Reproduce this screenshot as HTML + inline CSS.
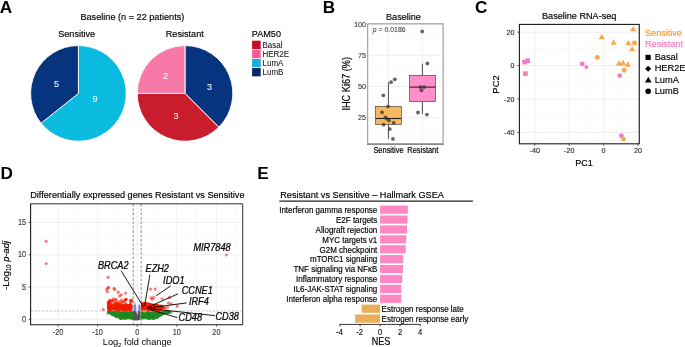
<!DOCTYPE html>
<html><head><meta charset="utf-8"><style>
html,body{margin:0;padding:0;background:#fff;}
svg{display:block;font-family:"Liberation Sans", sans-serif;will-change:transform;}
</style></head><body>
<svg width="685" height="347" viewBox="0 0 685 347">
<rect width="685" height="347" fill="#fff"/>
<text transform="translate(-0.2,12.8) scale(1,1.0)" font-size="17.2" font-weight="bold">A</text>
<text transform="translate(80.4,19.9) scale(1,1.05)" font-size="9.15" stroke="#000" stroke-width="0.16">Baseline (n = 22 patients)</text>
<text transform="translate(58.2,37.2) scale(1,1.05)" font-size="9.1" stroke="#000" stroke-width="0.16">Sensitive</text>
<text transform="translate(165.8,37.2) scale(1,1.05)" font-size="9.1" stroke="#000" stroke-width="0.16">Resistant</text>
<path d="M78.4,93.4 L78.40,45.60 A47.8,47.8 0 1 1 41.03,123.20 Z" fill="#0ABADF" stroke="#fff" stroke-width="0.9" stroke-linejoin="round"/>
<path d="M78.4,93.4 L41.03,123.20 A47.8,47.8 0 0 1 78.40,45.60 Z" fill="#07347E" stroke="#fff" stroke-width="0.9" stroke-linejoin="round"/>
<path d="M185.0,93.4 L185.00,45.60 A47.8,47.8 0 0 1 218.80,127.20 Z" fill="#07347E" stroke="#fff" stroke-width="0.9" stroke-linejoin="round"/>
<path d="M185.0,93.4 L218.80,127.20 A47.8,47.8 0 0 1 137.20,93.40 Z" fill="#C91D2E" stroke="#fff" stroke-width="0.9" stroke-linejoin="round"/>
<path d="M185.0,93.4 L137.20,93.40 A47.8,47.8 0 0 1 185.00,45.60 Z" fill="#F779A8" stroke="#fff" stroke-width="0.9" stroke-linejoin="round"/>
<text transform="translate(56.5,86.8) scale(1,1.0)" font-size="9.0" text-anchor="middle" fill="#fff" stroke="#fff" stroke-width="0.05">5</text>
<text transform="translate(95.1,101.7) scale(1,1.0)" font-size="9.0" text-anchor="middle" fill="#fff" stroke="#fff" stroke-width="0.05">9</text>
<text transform="translate(165.5,78.9) scale(1,1.0)" font-size="9.0" text-anchor="middle" fill="#fff" stroke="#fff" stroke-width="0.05">2</text>
<text transform="translate(209.5,89.6) scale(1,1.0)" font-size="9.0" text-anchor="middle" fill="#fff" stroke="#fff" stroke-width="0.05">3</text>
<text transform="translate(175.9,118.6) scale(1,1.0)" font-size="9.0" text-anchor="middle" fill="#fff" stroke="#fff" stroke-width="0.05">3</text>
<text transform="translate(251.8,37.1) scale(1,1.05)" font-size="9.1" stroke="#000" stroke-width="0.16">PAM50</text>
<rect x="252.1" y="40.70" width="8.6" height="8.35" fill="#C60C2C"/>
<text transform="translate(262.5,47.9) scale(1,1.05)" font-size="8" fill="#1a1a1a" stroke="#1a1a1a" stroke-width="0.08">Basal</text>
<rect x="252.1" y="49.80" width="8.6" height="8.35" fill="#FA5A9A"/>
<text transform="translate(262.5,57.0) scale(1,1.05)" font-size="8" fill="#1a1a1a" stroke="#1a1a1a" stroke-width="0.08">HER2E</text>
<rect x="252.1" y="58.90" width="8.6" height="8.35" fill="#1AADD9"/>
<text transform="translate(262.5,66.1) scale(1,1.05)" font-size="8" fill="#1a1a1a" stroke="#1a1a1a" stroke-width="0.08">LumA</text>
<rect x="252.1" y="68.00" width="8.6" height="8.35" fill="#0B2766"/>
<text transform="translate(262.5,75.2) scale(1,1.05)" font-size="8" fill="#1a1a1a" stroke="#1a1a1a" stroke-width="0.08">LumB</text>
<text transform="translate(322.8,12.8) scale(1,1.0)" font-size="17.2" font-weight="bold">B</text>
<text transform="translate(386,20) scale(1,1.05)" font-size="9.1" stroke="#000" stroke-width="0.16">Baseline</text>
<line x1="367.6" y1="102.15" x2="443.1" y2="102.15" stroke="#F2F2F2" stroke-width="0.5"/>
<line x1="367.6" y1="70.85" x2="443.1" y2="70.85" stroke="#F2F2F2" stroke-width="0.5"/>
<line x1="367.6" y1="39.55" x2="443.1" y2="39.55" stroke="#F2F2F2" stroke-width="0.5"/>
<line x1="367.6" y1="133.45" x2="443.1" y2="133.45" stroke="#F2F2F2" stroke-width="0.5"/>
<line x1="367.6" y1="117.80" x2="443.1" y2="117.80" stroke="#EBEBEB" stroke-width="0.8"/>
<line x1="367.6" y1="86.50" x2="443.1" y2="86.50" stroke="#EBEBEB" stroke-width="0.8"/>
<line x1="367.6" y1="55.20" x2="443.1" y2="55.20" stroke="#EBEBEB" stroke-width="0.8"/>
<line x1="367.6" y1="23.90" x2="443.1" y2="23.90" stroke="#EBEBEB" stroke-width="0.8"/>
<line x1="388.4" y1="23.8" x2="388.4" y2="144.1" stroke="#EBEBEB" stroke-width="0.8"/>
<line x1="422.4" y1="23.8" x2="422.4" y2="144.1" stroke="#EBEBEB" stroke-width="0.8"/>
<line x1="388.4" y1="82.4" x2="388.4" y2="138.8" stroke="#222" stroke-width="0.8"/>
<rect x="375.6" y="106.3" width="25.8" height="18.2" fill="#FBB75F" stroke="#333" stroke-width="0.6"/>
<line x1="375.6" y1="118.5" x2="401.4" y2="118.5" stroke="#222" stroke-width="1.1"/>
<line x1="422.4" y1="63.7" x2="422.4" y2="114" stroke="#222" stroke-width="0.8"/>
<rect x="409.6" y="75.3" width="25.8" height="26.3" fill="#FF8FC8" stroke="#333" stroke-width="0.6"/>
<line x1="409.6" y1="87.1" x2="435.4" y2="87.1" stroke="#222" stroke-width="1.1"/>
<circle cx="394.8" cy="79.3" r="1.9" fill="#333" fill-opacity="0.75"/>
<circle cx="391.1" cy="82.2" r="1.9" fill="#333" fill-opacity="0.75"/>
<circle cx="383.3" cy="95.4" r="1.9" fill="#333" fill-opacity="0.75"/>
<circle cx="388" cy="106.6" r="1.9" fill="#333" fill-opacity="0.75"/>
<circle cx="382" cy="112.3" r="1.9" fill="#333" fill-opacity="0.75"/>
<circle cx="385.4" cy="117.5" r="1.9" fill="#333" fill-opacity="0.75"/>
<circle cx="387" cy="118.8" r="1.9" fill="#333" fill-opacity="0.75"/>
<circle cx="389" cy="120.6" r="1.9" fill="#333" fill-opacity="0.75"/>
<circle cx="393.7" cy="122.9" r="1.9" fill="#333" fill-opacity="0.75"/>
<circle cx="383.6" cy="124.7" r="1.9" fill="#333" fill-opacity="0.75"/>
<circle cx="389.8" cy="129.1" r="1.9" fill="#333" fill-opacity="0.75"/>
<circle cx="392.9" cy="138.9" r="1.9" fill="#333" fill-opacity="0.75"/>
<circle cx="422.2" cy="31.5" r="1.9" fill="#333" fill-opacity="0.75"/>
<circle cx="427.4" cy="63.4" r="1.9" fill="#333" fill-opacity="0.75"/>
<circle cx="420.2" cy="87.1" r="1.9" fill="#333" fill-opacity="0.75"/>
<circle cx="424" cy="87.1" r="1.9" fill="#333" fill-opacity="0.75"/>
<circle cx="421.5" cy="90.3" r="1.9" fill="#333" fill-opacity="0.75"/>
<circle cx="418" cy="112.5" r="1.9" fill="#333" fill-opacity="0.75"/>
<circle cx="426.9" cy="114.6" r="1.9" fill="#333" fill-opacity="0.75"/>
<rect x="367.6" y="23.8" width="75.5" height="120.3" fill="none" stroke="#A6A6A6" stroke-width="1.3"/>
<line x1="367.0" y1="144.1" x2="443.70000000000005" y2="144.1" stroke="#7A7A7A" stroke-width="1.3"/>
<text transform="translate(366.1,120.4) scale(1,1.1)" font-size="7.3" text-anchor="end" fill="#333" stroke="#333" stroke-width="0.1">25</text>
<text transform="translate(366.1,89.1) scale(1,1.1)" font-size="7.3" text-anchor="end" fill="#333" stroke="#333" stroke-width="0.1">50</text>
<text transform="translate(366.1,57.8) scale(1,1.1)" font-size="7.3" text-anchor="end" fill="#333" stroke="#333" stroke-width="0.1">75</text>
<text transform="translate(366.1,26.5) scale(1,1.1)" font-size="7.3" text-anchor="end" fill="#333" stroke="#333" stroke-width="0.1">100</text>
<text transform="translate(372.8,31.6) scale(1,1.05)" font-size="6.9" fill="#333" stroke="#333" stroke-width="0.05"><tspan font-style="italic">p</tspan> = 0.0186</text>
<text transform="translate(388.5,152.6) scale(1,1.1)" font-size="7.45" text-anchor="middle" stroke="#000" stroke-width="0.16">Sensitive</text>
<text transform="translate(422.8,152.6) scale(1,1.1)" font-size="7.45" text-anchor="middle" stroke="#000" stroke-width="0.16">Resistant</text>
<text transform="translate(349.9,83.8) rotate(-90) scale(1,1.1)" font-size="9.2" text-anchor="middle" stroke="#000" stroke-width="0.16">IHC Ki67 (%)</text>
<text transform="translate(475.0,12.6) scale(1,1.0)" font-size="17.2" font-weight="bold">C</text>
<text transform="translate(542.0,19.1) scale(1,1.05)" font-size="9.1" stroke="#000" stroke-width="0.16">Baseline RNA-seq</text>
<line x1="552.00" y1="24.4" x2="552.00" y2="143.8" stroke="#F2F2F2" stroke-width="0.5"/>
<line x1="586.40" y1="24.4" x2="586.40" y2="143.8" stroke="#F2F2F2" stroke-width="0.5"/>
<line x1="620.80" y1="24.4" x2="620.80" y2="143.8" stroke="#F2F2F2" stroke-width="0.5"/>
<line x1="519.4" y1="115.70" x2="639.3" y2="115.70" stroke="#F2F2F2" stroke-width="0.5"/>
<line x1="519.4" y1="82.30" x2="639.3" y2="82.30" stroke="#F2F2F2" stroke-width="0.5"/>
<line x1="519.4" y1="48.90" x2="639.3" y2="48.90" stroke="#F2F2F2" stroke-width="0.5"/>
<line x1="534.80" y1="24.4" x2="534.80" y2="143.8" stroke="#EBEBEB" stroke-width="0.8"/>
<line x1="519.4" y1="132.40" x2="639.3" y2="132.40" stroke="#EBEBEB" stroke-width="0.8"/>
<line x1="569.20" y1="24.4" x2="569.20" y2="143.8" stroke="#EBEBEB" stroke-width="0.8"/>
<line x1="519.4" y1="99.00" x2="639.3" y2="99.00" stroke="#EBEBEB" stroke-width="0.8"/>
<line x1="603.60" y1="24.4" x2="603.60" y2="143.8" stroke="#EBEBEB" stroke-width="0.8"/>
<line x1="519.4" y1="65.60" x2="639.3" y2="65.60" stroke="#EBEBEB" stroke-width="0.8"/>
<line x1="638.00" y1="24.4" x2="638.00" y2="143.8" stroke="#EBEBEB" stroke-width="0.8"/>
<line x1="519.4" y1="32.20" x2="639.3" y2="32.20" stroke="#EBEBEB" stroke-width="0.8"/>
<rect x="522.30" y="59.80" width="4.6" height="4.6" fill="#F47CC0"/>
<rect x="525.40" y="58.40" width="4.6" height="4.6" fill="#F47CC0"/>
<rect x="523.10" y="71.30" width="4.6" height="4.6" fill="#F47CC0"/>
<circle cx="582.2" cy="63.9" r="2.45" fill="#F47CC0"/>
<path d="M586.4,64.6 L588.8,67 L586.4,69.4 L584.0,67 Z" fill="#F47CC0"/>
<circle cx="619.7" cy="75.6" r="2.45" fill="#F47CC0"/>
<circle cx="621.4" cy="135.8" r="2.45" fill="#F47CC0"/>
<path d="M633.20,25.97 L636.30,31.34 L630.10,31.34 Z" fill="#FBA64C"/>
<path d="M601.70,33.87 L604.80,39.24 L598.60,39.24 Z" fill="#FBA64C"/>
<path d="M613.70,39.37 L616.80,44.74 L610.60,44.74 Z" fill="#FBA64C"/>
<path d="M628.40,39.97 L631.50,45.34 L625.30,45.34 Z" fill="#FBA64C"/>
<path d="M632.20,45.97 L635.30,51.34 L629.10,51.34 Z" fill="#FBA64C"/>
<path d="M619.00,60.37 L622.10,65.74 L615.90,65.74 Z" fill="#FBA64C"/>
<path d="M623.10,59.87 L626.20,65.24 L620.00,65.24 Z" fill="#FBA64C"/>
<path d="M627.90,61.27 L631.00,66.64 L624.80,66.64 Z" fill="#FBA64C"/>
<circle cx="634.4" cy="42.9" r="2.45" fill="#FBA64C"/>
<circle cx="597.3" cy="57.4" r="2.45" fill="#FBA64C"/>
<circle cx="624.2" cy="70.2" r="2.45" fill="#FBA64C"/>
<circle cx="623.5" cy="139.1" r="2.45" fill="#FBA64C"/>
<rect x="519.4" y="24.4" width="119.9" height="119.4" fill="none" stroke="#1a1a1a" stroke-width="1.1"/>
<line x1="534.80" y1="143.8" x2="534.80" y2="145.8" stroke="#333" stroke-width="0.8"/>
<text transform="translate(534.8,153) scale(1,1.05)" font-size="7.2" text-anchor="middle" fill="#222" stroke="#222" stroke-width="0.1">-40</text>
<line x1="569.20" y1="143.8" x2="569.20" y2="145.8" stroke="#333" stroke-width="0.8"/>
<text transform="translate(569.2,153) scale(1,1.05)" font-size="7.2" text-anchor="middle" fill="#222" stroke="#222" stroke-width="0.1">-20</text>
<line x1="603.60" y1="143.8" x2="603.60" y2="145.8" stroke="#333" stroke-width="0.8"/>
<text transform="translate(603.6,153) scale(1,1.05)" font-size="7.2" text-anchor="middle" fill="#222" stroke="#222" stroke-width="0.1">0</text>
<line x1="638.00" y1="143.8" x2="638.00" y2="145.8" stroke="#333" stroke-width="0.8"/>
<text transform="translate(638.0,153) scale(1,1.05)" font-size="7.2" text-anchor="middle" fill="#222" stroke="#222" stroke-width="0.1">20</text>
<line x1="517.4" y1="132.40" x2="519.4" y2="132.40" stroke="#333" stroke-width="0.8"/>
<text transform="translate(514.4,134.9) scale(1,1.05)" font-size="7.2" text-anchor="end" fill="#222" stroke="#222" stroke-width="0.1">-40</text>
<line x1="517.4" y1="99.00" x2="519.4" y2="99.00" stroke="#333" stroke-width="0.8"/>
<text transform="translate(514.4,101.5) scale(1,1.05)" font-size="7.2" text-anchor="end" fill="#222" stroke="#222" stroke-width="0.1">-20</text>
<line x1="517.4" y1="65.60" x2="519.4" y2="65.60" stroke="#333" stroke-width="0.8"/>
<text transform="translate(514.4,68.1) scale(1,1.05)" font-size="7.2" text-anchor="end" fill="#222" stroke="#222" stroke-width="0.1">0</text>
<line x1="517.4" y1="32.20" x2="519.4" y2="32.20" stroke="#333" stroke-width="0.8"/>
<text transform="translate(514.4,34.7) scale(1,1.05)" font-size="7.2" text-anchor="end" fill="#222" stroke="#222" stroke-width="0.1">20</text>
<text transform="translate(584,166.3) scale(1,1.05)" font-size="9" text-anchor="middle" stroke="#000" stroke-width="0.16">PC1</text>
<text transform="translate(499.2,84.5) rotate(-90) scale(1,1.0)" font-size="9.4" text-anchor="middle" stroke="#000" stroke-width="0.16">PC2</text>
<text transform="translate(645,35.7) scale(1,1.05)" font-size="9.1" fill="#F8982F" stroke="#F8982F" stroke-width="0.16">Sensitive</text>
<text transform="translate(645,46.9) scale(1,1.05)" font-size="9.1" fill="#F27AC0" stroke="#F27AC0" stroke-width="0.16">Resistant</text>
<rect x="645.50" y="54.80" width="5.2" height="5.2" fill="#000"/>
<text transform="translate(654.7,59.9) scale(1,1.05)" font-size="9.25" stroke="#000" stroke-width="0.16">Basal</text>
<path d="M648.1,65.8 L651.1,68.8 L648.1,71.8 L645.1,68.8 Z" fill="#000"/>
<text transform="translate(654.7,71.4) scale(1,1.05)" font-size="9.25" stroke="#000" stroke-width="0.16">HER2E</text>
<path d="M648.30,76.86 L651.60,82.57 L645.00,82.57 Z" fill="#000"/>
<text transform="translate(654.7,82.7) scale(1,1.05)" font-size="9.25" stroke="#000" stroke-width="0.16">LumA</text>
<circle cx="648.2" cy="91.3" r="2.8" fill="#000"/>
<text transform="translate(654.7,94.2) scale(1,1.05)" font-size="9.25" stroke="#000" stroke-width="0.16">LumB</text>
<text transform="translate(0.4,179.4) scale(1,1.0)" font-size="17.2" font-weight="bold">D</text>
<text transform="translate(30.2,197.9) scale(1,1.05)" font-size="9.15" stroke="#000" stroke-width="0.16">Differentially expressed genes Resistant vs Sensitive</text>
<line x1="38.20" y1="203.8" x2="38.20" y2="324.7" stroke="#F2F2F2" stroke-width="0.5"/>
<line x1="77.80" y1="203.8" x2="77.80" y2="324.7" stroke="#F2F2F2" stroke-width="0.5"/>
<line x1="117.40" y1="203.8" x2="117.40" y2="324.7" stroke="#F2F2F2" stroke-width="0.5"/>
<line x1="157.00" y1="203.8" x2="157.00" y2="324.7" stroke="#F2F2F2" stroke-width="0.5"/>
<line x1="196.60" y1="203.8" x2="196.60" y2="324.7" stroke="#F2F2F2" stroke-width="0.5"/>
<line x1="236.20" y1="203.8" x2="236.20" y2="324.7" stroke="#F2F2F2" stroke-width="0.5"/>
<line x1="30.6" y1="303.18" x2="242.7" y2="303.18" stroke="#F2F2F2" stroke-width="0.5"/>
<line x1="30.6" y1="270.93" x2="242.7" y2="270.93" stroke="#F2F2F2" stroke-width="0.5"/>
<line x1="30.6" y1="238.68" x2="242.7" y2="238.68" stroke="#F2F2F2" stroke-width="0.5"/>
<line x1="30.6" y1="206.43" x2="242.7" y2="206.43" stroke="#F2F2F2" stroke-width="0.5"/>
<line x1="58.00" y1="203.8" x2="58.00" y2="324.7" stroke="#EBEBEB" stroke-width="0.8"/>
<line x1="97.60" y1="203.8" x2="97.60" y2="324.7" stroke="#EBEBEB" stroke-width="0.8"/>
<line x1="137.20" y1="203.8" x2="137.20" y2="324.7" stroke="#EBEBEB" stroke-width="0.8"/>
<line x1="176.80" y1="203.8" x2="176.80" y2="324.7" stroke="#EBEBEB" stroke-width="0.8"/>
<line x1="216.40" y1="203.8" x2="216.40" y2="324.7" stroke="#EBEBEB" stroke-width="0.8"/>
<line x1="30.6" y1="319.30" x2="242.7" y2="319.30" stroke="#EBEBEB" stroke-width="0.8"/>
<line x1="30.6" y1="287.05" x2="242.7" y2="287.05" stroke="#EBEBEB" stroke-width="0.8"/>
<line x1="30.6" y1="254.80" x2="242.7" y2="254.80" stroke="#EBEBEB" stroke-width="0.8"/>
<line x1="30.6" y1="222.55" x2="242.7" y2="222.55" stroke="#EBEBEB" stroke-width="0.8"/>
<line x1="133.24" y1="203.8" x2="133.24" y2="324.7" stroke="#444" stroke-width="0.6" stroke-dasharray="2.6,1.8"/>
<line x1="141.16" y1="203.8" x2="141.16" y2="324.7" stroke="#444" stroke-width="0.6" stroke-dasharray="2.6,1.8"/>
<line x1="30.6" y1="310.91" x2="242.7" y2="310.91" stroke="#AAA" stroke-width="0.7" stroke-dasharray="2.2,1.6"/>
<g><circle cx="128.3" cy="313.3" r="1.45" fill="rgba(34,139,34,0.6)"/><circle cx="148.2" cy="312.8" r="1.45" fill="rgba(34,139,34,0.6)"/><circle cx="130.8" cy="312.7" r="1.45" fill="rgba(34,139,34,0.6)"/><circle cx="110.8" cy="312.7" r="1.45" fill="rgba(34,139,34,0.6)"/><circle cx="112.8" cy="312.6" r="1.45" fill="rgba(34,139,34,0.6)"/><circle cx="158.9" cy="312.8" r="1.45" fill="rgba(34,139,34,0.6)"/><circle cx="122.1" cy="316.2" r="1.45" fill="rgba(34,139,34,0.6)"/><circle cx="166.3" cy="312.3" r="1.45" fill="rgba(34,139,34,0.6)"/><circle cx="143.7" cy="314.8" r="1.45" fill="rgba(34,139,34,0.6)"/><circle cx="168.1" cy="312.3" r="1.45" fill="rgba(34,139,34,0.6)"/><circle cx="111.3" cy="313.5" r="1.45" fill="rgba(34,139,34,0.6)"/><circle cx="126.2" cy="313.3" r="1.45" fill="rgba(34,139,34,0.6)"/><circle cx="115.7" cy="313.6" r="1.45" fill="rgba(34,139,34,0.6)"/><circle cx="158.3" cy="313.1" r="1.45" fill="rgba(34,139,34,0.6)"/><circle cx="144.0" cy="316.3" r="1.45" fill="rgba(34,139,34,0.6)"/><circle cx="131.2" cy="315.8" r="1.45" fill="rgba(34,139,34,0.6)"/><circle cx="112.3" cy="312.5" r="1.45" fill="rgba(34,139,34,0.6)"/><circle cx="121.1" cy="316.6" r="1.45" fill="rgba(34,139,34,0.6)"/><circle cx="127.7" cy="316.0" r="1.45" fill="rgba(34,139,34,0.6)"/><circle cx="126.8" cy="317.3" r="1.45" fill="rgba(34,139,34,0.6)"/><circle cx="151.1" cy="313.9" r="1.45" fill="rgba(34,139,34,0.6)"/><circle cx="143.5" cy="315.6" r="1.45" fill="rgba(34,139,34,0.6)"/><circle cx="161.9" cy="313.8" r="1.45" fill="rgba(34,139,34,0.6)"/><circle cx="126.1" cy="318.4" r="1.45" fill="rgba(34,139,34,0.6)"/><circle cx="115.7" cy="314.0" r="1.45" fill="rgba(34,139,34,0.6)"/><circle cx="154.7" cy="313.3" r="1.45" fill="rgba(34,139,34,0.6)"/><circle cx="110.9" cy="313.0" r="1.45" fill="rgba(34,139,34,0.6)"/><circle cx="155.1" cy="315.9" r="1.45" fill="rgba(34,139,34,0.6)"/><circle cx="161.9" cy="313.0" r="1.45" fill="rgba(34,139,34,0.6)"/><circle cx="150.9" cy="316.0" r="1.45" fill="rgba(34,139,34,0.6)"/><circle cx="143.9" cy="315.2" r="1.45" fill="rgba(34,139,34,0.6)"/><circle cx="159.7" cy="315.5" r="1.45" fill="rgba(34,139,34,0.6)"/><circle cx="149.0" cy="312.7" r="1.45" fill="rgba(34,139,34,0.6)"/><circle cx="151.3" cy="316.4" r="1.45" fill="rgba(34,139,34,0.6)"/><circle cx="169.1" cy="312.3" r="1.45" fill="rgba(34,139,34,0.6)"/><circle cx="158.6" cy="313.5" r="1.45" fill="rgba(34,139,34,0.6)"/><circle cx="132.0" cy="316.5" r="1.45" fill="rgba(34,139,34,0.6)"/><circle cx="109.9" cy="312.3" r="1.45" fill="rgba(34,139,34,0.6)"/><circle cx="118.8" cy="313.0" r="1.45" fill="rgba(34,139,34,0.6)"/><circle cx="112.1" cy="313.8" r="1.45" fill="rgba(34,139,34,0.6)"/><circle cx="116.4" cy="313.4" r="1.45" fill="rgba(34,139,34,0.6)"/><circle cx="132.3" cy="317.8" r="1.45" fill="rgba(34,139,34,0.6)"/><circle cx="113.4" cy="313.6" r="1.45" fill="rgba(34,139,34,0.6)"/><circle cx="142.0" cy="317.8" r="1.45" fill="rgba(34,139,34,0.6)"/><circle cx="158.5" cy="316.0" r="1.45" fill="rgba(34,139,34,0.6)"/><circle cx="125.5" cy="314.9" r="1.45" fill="rgba(34,139,34,0.6)"/><circle cx="130.4" cy="317.8" r="1.45" fill="rgba(34,139,34,0.6)"/><circle cx="166.9" cy="312.3" r="1.45" fill="rgba(34,139,34,0.6)"/><circle cx="117.7" cy="313.2" r="1.45" fill="rgba(34,139,34,0.6)"/><circle cx="122.6" cy="313.8" r="1.45" fill="rgba(34,139,34,0.6)"/><circle cx="144.4" cy="314.0" r="1.45" fill="rgba(34,139,34,0.6)"/><circle cx="108.7" cy="312.3" r="1.45" fill="rgba(34,139,34,0.6)"/><circle cx="131.0" cy="315.9" r="1.45" fill="rgba(34,139,34,0.6)"/><circle cx="166.6" cy="312.3" r="1.45" fill="rgba(34,139,34,0.6)"/><circle cx="150.6" cy="315.6" r="1.45" fill="rgba(34,139,34,0.6)"/><circle cx="146.2" cy="316.5" r="1.45" fill="rgba(34,139,34,0.6)"/><circle cx="111.8" cy="313.8" r="1.45" fill="rgba(34,139,34,0.6)"/><circle cx="156.1" cy="317.4" r="1.45" fill="rgba(34,139,34,0.6)"/><circle cx="157.2" cy="314.4" r="1.45" fill="rgba(34,139,34,0.6)"/><circle cx="132.8" cy="313.0" r="1.45" fill="rgba(34,139,34,0.6)"/><circle cx="147.2" cy="312.7" r="1.45" fill="rgba(34,139,34,0.6)"/><circle cx="112.6" cy="312.8" r="1.45" fill="rgba(34,139,34,0.6)"/><circle cx="118.4" cy="314.1" r="1.45" fill="rgba(34,139,34,0.6)"/><circle cx="111.7" cy="312.4" r="1.45" fill="rgba(34,139,34,0.6)"/><circle cx="117.7" cy="312.9" r="1.45" fill="rgba(34,139,34,0.6)"/><circle cx="130.7" cy="312.5" r="1.45" fill="rgba(34,139,34,0.6)"/><circle cx="161.8" cy="313.6" r="1.45" fill="rgba(34,139,34,0.6)"/><circle cx="117.6" cy="313.6" r="1.45" fill="rgba(34,139,34,0.6)"/><circle cx="129.7" cy="314.6" r="1.45" fill="rgba(34,139,34,0.6)"/><circle cx="116.0" cy="315.8" r="1.45" fill="rgba(34,139,34,0.6)"/><circle cx="169.1" cy="312.3" r="1.45" fill="rgba(34,139,34,0.6)"/><circle cx="113.7" cy="312.7" r="1.45" fill="rgba(34,139,34,0.6)"/><circle cx="129.4" cy="314.0" r="1.45" fill="rgba(34,139,34,0.6)"/><circle cx="159.1" cy="313.0" r="1.45" fill="rgba(34,139,34,0.6)"/><circle cx="109.9" cy="312.3" r="1.45" fill="rgba(34,139,34,0.6)"/><circle cx="117.4" cy="314.9" r="1.45" fill="rgba(34,139,34,0.6)"/><circle cx="110.1" cy="312.5" r="1.45" fill="rgba(34,139,34,0.6)"/><circle cx="168.2" cy="312.3" r="1.45" fill="rgba(34,139,34,0.6)"/><circle cx="161.2" cy="314.0" r="1.45" fill="rgba(34,139,34,0.6)"/><circle cx="124.4" cy="314.6" r="1.45" fill="rgba(34,139,34,0.6)"/><circle cx="118.7" cy="316.4" r="1.45" fill="rgba(34,139,34,0.6)"/><circle cx="156.0" cy="314.3" r="1.45" fill="rgba(34,139,34,0.6)"/><circle cx="122.1" cy="317.4" r="1.45" fill="rgba(34,139,34,0.6)"/><circle cx="168.6" cy="312.3" r="1.45" fill="rgba(34,139,34,0.6)"/><circle cx="160.5" cy="314.7" r="1.45" fill="rgba(34,139,34,0.6)"/><circle cx="158.4" cy="315.5" r="1.45" fill="rgba(34,139,34,0.6)"/><circle cx="122.3" cy="315.6" r="1.45" fill="rgba(34,139,34,0.6)"/><circle cx="130.2" cy="312.5" r="1.45" fill="rgba(34,139,34,0.6)"/><circle cx="110.2" cy="312.4" r="1.45" fill="rgba(34,139,34,0.6)"/><circle cx="124.3" cy="316.6" r="1.45" fill="rgba(34,139,34,0.6)"/><circle cx="166.8" cy="312.3" r="1.45" fill="rgba(34,139,34,0.6)"/><circle cx="165.7" cy="312.3" r="1.45" fill="rgba(34,139,34,0.6)"/><circle cx="168.8" cy="312.3" r="1.45" fill="rgba(34,139,34,0.6)"/><circle cx="166.8" cy="312.3" r="1.45" fill="rgba(34,139,34,0.6)"/><circle cx="130.7" cy="313.7" r="1.45" fill="rgba(34,139,34,0.6)"/><circle cx="122.3" cy="313.6" r="1.45" fill="rgba(34,139,34,0.6)"/><circle cx="121.0" cy="316.2" r="1.45" fill="rgba(34,139,34,0.6)"/><circle cx="163.4" cy="313.1" r="1.45" fill="rgba(34,139,34,0.6)"/><circle cx="148.3" cy="317.3" r="1.45" fill="rgba(34,139,34,0.6)"/><circle cx="113.7" cy="314.3" r="1.45" fill="rgba(34,139,34,0.6)"/><circle cx="164.0" cy="312.8" r="1.45" fill="rgba(34,139,34,0.6)"/><circle cx="154.3" cy="315.3" r="1.45" fill="rgba(34,139,34,0.6)"/><circle cx="119.4" cy="316.8" r="1.45" fill="rgba(34,139,34,0.6)"/><circle cx="128.8" cy="317.3" r="1.45" fill="rgba(34,139,34,0.6)"/><circle cx="167.8" cy="312.3" r="1.45" fill="rgba(34,139,34,0.6)"/><circle cx="132.6" cy="314.8" r="1.45" fill="rgba(34,139,34,0.6)"/><circle cx="166.3" cy="312.3" r="1.45" fill="rgba(34,139,34,0.6)"/><circle cx="152.7" cy="313.4" r="1.45" fill="rgba(34,139,34,0.6)"/><circle cx="116.2" cy="313.0" r="1.45" fill="rgba(34,139,34,0.6)"/><circle cx="163.7" cy="312.9" r="1.45" fill="rgba(34,139,34,0.6)"/><circle cx="117.4" cy="316.3" r="1.45" fill="rgba(34,139,34,0.6)"/><circle cx="168.3" cy="312.3" r="1.45" fill="rgba(34,139,34,0.6)"/><circle cx="148.6" cy="314.5" r="1.45" fill="rgba(34,139,34,0.6)"/><circle cx="142.0" cy="313.2" r="1.45" fill="rgba(34,139,34,0.6)"/><circle cx="109.4" cy="312.3" r="1.45" fill="rgba(34,139,34,0.6)"/><circle cx="167.7" cy="312.3" r="1.45" fill="rgba(34,139,34,0.6)"/><circle cx="148.1" cy="315.6" r="1.45" fill="rgba(34,139,34,0.6)"/><circle cx="165.5" cy="312.3" r="1.45" fill="rgba(34,139,34,0.6)"/><circle cx="161.7" cy="314.1" r="1.45" fill="rgba(34,139,34,0.6)"/><circle cx="121.4" cy="313.9" r="1.45" fill="rgba(34,139,34,0.6)"/><circle cx="126.4" cy="313.8" r="1.45" fill="rgba(34,139,34,0.6)"/><circle cx="144.3" cy="314.0" r="1.45" fill="rgba(34,139,34,0.6)"/><circle cx="116.5" cy="316.3" r="1.45" fill="rgba(34,139,34,0.6)"/><circle cx="130.1" cy="315.2" r="1.45" fill="rgba(34,139,34,0.6)"/><circle cx="144.1" cy="318.0" r="1.45" fill="rgba(34,139,34,0.6)"/><circle cx="164.5" cy="312.5" r="1.45" fill="rgba(34,139,34,0.6)"/><circle cx="109.6" cy="312.3" r="1.45" fill="rgba(34,139,34,0.6)"/><circle cx="119.7" cy="312.4" r="1.45" fill="rgba(34,139,34,0.6)"/><circle cx="157.2" cy="313.2" r="1.45" fill="rgba(34,139,34,0.6)"/><circle cx="152.7" cy="315.8" r="1.45" fill="rgba(34,139,34,0.6)"/><circle cx="128.4" cy="315.6" r="1.45" fill="rgba(34,139,34,0.6)"/><circle cx="142.4" cy="317.2" r="1.45" fill="rgba(34,139,34,0.6)"/><circle cx="115.0" cy="314.4" r="1.45" fill="rgba(34,139,34,0.6)"/><circle cx="123.7" cy="314.1" r="1.45" fill="rgba(34,139,34,0.6)"/><circle cx="155.6" cy="315.5" r="1.45" fill="rgba(34,139,34,0.6)"/><circle cx="142.8" cy="317.1" r="1.45" fill="rgba(34,139,34,0.6)"/><circle cx="164.2" cy="312.5" r="1.45" fill="rgba(34,139,34,0.6)"/><circle cx="145.9" cy="315.5" r="1.45" fill="rgba(34,139,34,0.6)"/><circle cx="150.8" cy="315.2" r="1.45" fill="rgba(34,139,34,0.6)"/><circle cx="165.9" cy="312.3" r="1.45" fill="rgba(34,139,34,0.6)"/><circle cx="151.2" cy="317.8" r="1.45" fill="rgba(34,139,34,0.6)"/><circle cx="166.0" cy="312.3" r="1.45" fill="rgba(34,139,34,0.6)"/><circle cx="124.3" cy="315.8" r="1.45" fill="rgba(34,139,34,0.6)"/><circle cx="166.0" cy="312.3" r="1.45" fill="rgba(34,139,34,0.6)"/><circle cx="159.7" cy="312.8" r="1.45" fill="rgba(34,139,34,0.6)"/><circle cx="115.9" cy="314.2" r="1.45" fill="rgba(34,139,34,0.6)"/><circle cx="112.9" cy="312.9" r="1.45" fill="rgba(34,139,34,0.6)"/><circle cx="113.0" cy="314.0" r="1.45" fill="rgba(34,139,34,0.6)"/><circle cx="156.3" cy="317.4" r="1.45" fill="rgba(34,139,34,0.6)"/><circle cx="117.9" cy="315.9" r="1.45" fill="rgba(34,139,34,0.6)"/><circle cx="148.8" cy="313.2" r="1.45" fill="rgba(34,139,34,0.6)"/><circle cx="162.4" cy="313.9" r="1.45" fill="rgba(34,139,34,0.6)"/><circle cx="121.9" cy="318.3" r="1.45" fill="rgba(34,139,34,0.6)"/><circle cx="132.8" cy="315.4" r="1.45" fill="rgba(34,139,34,0.6)"/><circle cx="168.9" cy="312.3" r="1.45" fill="rgba(34,139,34,0.6)"/><circle cx="159.3" cy="313.0" r="1.45" fill="rgba(34,139,34,0.6)"/><circle cx="129.2" cy="313.6" r="1.45" fill="rgba(34,139,34,0.6)"/><circle cx="127.9" cy="316.8" r="1.45" fill="rgba(34,139,34,0.6)"/><circle cx="109.7" cy="312.1" r="1.45" fill="rgba(34,139,34,0.6)"/><circle cx="109.6" cy="312.3" r="1.45" fill="rgba(34,139,34,0.6)"/><circle cx="128.7" cy="316.2" r="1.45" fill="rgba(34,139,34,0.6)"/><circle cx="112.4" cy="314.4" r="1.45" fill="rgba(34,139,34,0.6)"/><circle cx="156.6" cy="317.7" r="1.45" fill="rgba(34,139,34,0.6)"/><circle cx="114.9" cy="313.3" r="1.45" fill="rgba(34,139,34,0.6)"/><circle cx="110.9" cy="313.1" r="1.45" fill="rgba(34,139,34,0.6)"/><circle cx="125.0" cy="313.2" r="1.45" fill="rgba(34,139,34,0.6)"/><circle cx="164.1" cy="312.7" r="1.45" fill="rgba(34,139,34,0.6)"/><circle cx="124.3" cy="313.3" r="1.45" fill="rgba(34,139,34,0.6)"/><circle cx="164.6" cy="312.4" r="1.45" fill="rgba(34,139,34,0.6)"/><circle cx="151.2" cy="312.9" r="1.45" fill="rgba(34,139,34,0.6)"/><circle cx="112.0" cy="313.6" r="1.45" fill="rgba(34,139,34,0.6)"/><circle cx="112.9" cy="314.6" r="1.45" fill="rgba(34,139,34,0.6)"/><circle cx="147.2" cy="317.3" r="1.45" fill="rgba(34,139,34,0.6)"/><circle cx="113.6" cy="314.8" r="1.45" fill="rgba(34,139,34,0.6)"/><circle cx="112.6" cy="314.2" r="1.45" fill="rgba(34,139,34,0.6)"/><circle cx="129.2" cy="315.8" r="1.45" fill="rgba(34,139,34,0.6)"/><circle cx="165.0" cy="312.3" r="1.45" fill="rgba(34,139,34,0.6)"/><circle cx="116.4" cy="314.6" r="1.45" fill="rgba(34,139,34,0.6)"/><circle cx="123.0" cy="313.0" r="1.45" fill="rgba(34,139,34,0.6)"/><circle cx="118.3" cy="312.6" r="1.45" fill="rgba(34,139,34,0.6)"/><circle cx="120.8" cy="314.3" r="1.45" fill="rgba(34,139,34,0.6)"/><circle cx="127.1" cy="317.1" r="1.45" fill="rgba(34,139,34,0.6)"/><circle cx="126.2" cy="315.5" r="1.45" fill="rgba(34,139,34,0.6)"/><circle cx="119.4" cy="314.3" r="1.45" fill="rgba(34,139,34,0.6)"/><circle cx="109.6" cy="312.3" r="1.45" fill="rgba(34,139,34,0.6)"/><circle cx="123.8" cy="312.5" r="1.45" fill="rgba(34,139,34,0.6)"/><circle cx="153.2" cy="315.8" r="1.45" fill="rgba(34,139,34,0.6)"/><circle cx="120.1" cy="315.1" r="1.45" fill="rgba(34,139,34,0.6)"/><circle cx="165.5" cy="312.3" r="1.45" fill="rgba(34,139,34,0.6)"/><circle cx="115.0" cy="315.3" r="1.45" fill="rgba(34,139,34,0.6)"/><circle cx="159.4" cy="313.8" r="1.45" fill="rgba(34,139,34,0.6)"/><circle cx="150.5" cy="318.4" r="1.45" fill="rgba(34,139,34,0.6)"/><circle cx="129.4" cy="317.5" r="1.45" fill="rgba(34,139,34,0.6)"/><circle cx="151.6" cy="316.3" r="1.45" fill="rgba(34,139,34,0.6)"/><circle cx="133.2" cy="314.5" r="1.45" fill="rgba(34,139,34,0.6)"/><circle cx="111.8" cy="312.6" r="1.45" fill="rgba(34,139,34,0.6)"/><circle cx="112.8" cy="314.1" r="1.45" fill="rgba(34,139,34,0.6)"/><circle cx="124.1" cy="313.4" r="1.45" fill="rgba(34,139,34,0.6)"/><circle cx="113.7" cy="314.8" r="1.45" fill="rgba(34,139,34,0.6)"/><circle cx="161.6" cy="313.8" r="1.45" fill="rgba(34,139,34,0.6)"/><circle cx="125.7" cy="313.9" r="1.45" fill="rgba(34,139,34,0.6)"/><circle cx="126.4" cy="315.2" r="1.45" fill="rgba(34,139,34,0.6)"/><circle cx="118.1" cy="314.6" r="1.45" fill="rgba(34,139,34,0.6)"/><circle cx="124.6" cy="318.3" r="1.45" fill="rgba(34,139,34,0.6)"/><circle cx="167.8" cy="312.3" r="1.45" fill="rgba(34,139,34,0.6)"/><circle cx="141.9" cy="313.9" r="1.45" fill="rgba(34,139,34,0.6)"/><circle cx="167.4" cy="312.3" r="1.45" fill="rgba(34,139,34,0.6)"/><circle cx="127.4" cy="314.6" r="1.45" fill="rgba(34,139,34,0.6)"/><circle cx="108.6" cy="312.3" r="1.45" fill="rgba(34,139,34,0.6)"/><circle cx="131.8" cy="315.3" r="1.45" fill="rgba(34,139,34,0.6)"/><circle cx="120.8" cy="315.4" r="1.45" fill="rgba(34,139,34,0.6)"/><circle cx="108.8" cy="312.3" r="1.45" fill="rgba(34,139,34,0.6)"/><circle cx="124.6" cy="312.9" r="1.45" fill="rgba(34,139,34,0.6)"/><circle cx="132.9" cy="312.6" r="1.45" fill="rgba(34,139,34,0.6)"/><circle cx="109.9" cy="312.3" r="1.45" fill="rgba(34,139,34,0.6)"/><circle cx="122.7" cy="316.0" r="1.45" fill="rgba(34,139,34,0.6)"/><circle cx="154.3" cy="316.4" r="1.45" fill="rgba(34,139,34,0.6)"/><circle cx="152.2" cy="317.8" r="1.45" fill="rgba(34,139,34,0.6)"/><circle cx="132.3" cy="314.4" r="1.45" fill="rgba(34,139,34,0.6)"/><circle cx="168.6" cy="312.3" r="1.45" fill="rgba(34,139,34,0.6)"/><circle cx="117.6" cy="315.9" r="1.45" fill="rgba(34,139,34,0.6)"/><circle cx="147.7" cy="312.6" r="1.45" fill="rgba(34,139,34,0.6)"/><circle cx="159.5" cy="315.5" r="1.45" fill="rgba(34,139,34,0.6)"/><circle cx="146.8" cy="316.9" r="1.45" fill="rgba(34,139,34,0.6)"/><circle cx="158.0" cy="313.0" r="1.45" fill="rgba(34,139,34,0.6)"/><circle cx="159.4" cy="315.2" r="1.45" fill="rgba(34,139,34,0.6)"/><circle cx="158.9" cy="314.6" r="1.45" fill="rgba(34,139,34,0.6)"/><circle cx="163.0" cy="313.2" r="1.45" fill="rgba(34,139,34,0.6)"/><circle cx="150.8" cy="313.8" r="1.45" fill="rgba(34,139,34,0.6)"/><circle cx="110.4" cy="312.4" r="1.45" fill="rgba(34,139,34,0.6)"/><circle cx="130.5" cy="313.0" r="1.45" fill="rgba(34,139,34,0.6)"/><circle cx="159.5" cy="314.3" r="1.45" fill="rgba(34,139,34,0.6)"/><circle cx="146.8" cy="316.2" r="1.45" fill="rgba(34,139,34,0.6)"/><circle cx="150.0" cy="315.4" r="1.45" fill="rgba(34,139,34,0.6)"/><circle cx="108.7" cy="312.3" r="1.45" fill="rgba(34,139,34,0.6)"/><circle cx="157.2" cy="316.2" r="1.45" fill="rgba(34,139,34,0.6)"/><circle cx="148.7" cy="312.8" r="1.45" fill="rgba(34,139,34,0.6)"/><circle cx="153.4" cy="313.9" r="1.45" fill="rgba(34,139,34,0.6)"/><circle cx="113.0" cy="313.0" r="1.45" fill="rgba(34,139,34,0.6)"/><circle cx="153.0" cy="313.6" r="1.45" fill="rgba(34,139,34,0.6)"/><circle cx="153.6" cy="318.4" r="1.45" fill="rgba(34,139,34,0.6)"/><circle cx="131.8" cy="315.3" r="1.45" fill="rgba(34,139,34,0.6)"/><circle cx="150.2" cy="317.1" r="1.45" fill="rgba(34,139,34,0.6)"/><circle cx="146.1" cy="316.3" r="1.45" fill="rgba(34,139,34,0.6)"/><circle cx="113.2" cy="312.7" r="1.45" fill="rgba(34,139,34,0.6)"/><circle cx="124.0" cy="317.0" r="1.45" fill="rgba(34,139,34,0.6)"/><circle cx="127.1" cy="315.9" r="1.45" fill="rgba(34,139,34,0.6)"/><circle cx="109.3" cy="312.3" r="1.45" fill="rgba(34,139,34,0.6)"/><circle cx="112.2" cy="312.9" r="1.45" fill="rgba(34,139,34,0.6)"/><circle cx="149.5" cy="316.6" r="1.45" fill="rgba(34,139,34,0.6)"/><circle cx="149.7" cy="314.2" r="1.45" fill="rgba(34,139,34,0.6)"/><circle cx="115.7" cy="315.9" r="1.45" fill="rgba(34,139,34,0.6)"/><circle cx="120.7" cy="318.3" r="1.45" fill="rgba(34,139,34,0.6)"/><circle cx="165.6" cy="312.3" r="1.45" fill="rgba(34,139,34,0.6)"/><circle cx="109.6" cy="312.3" r="1.45" fill="rgba(34,139,34,0.6)"/><circle cx="158.5" cy="316.4" r="1.45" fill="rgba(34,139,34,0.6)"/><circle cx="124.9" cy="313.7" r="1.45" fill="rgba(34,139,34,0.6)"/><circle cx="166.2" cy="312.3" r="1.45" fill="rgba(34,139,34,0.6)"/><circle cx="121.4" cy="316.0" r="1.45" fill="rgba(34,139,34,0.6)"/><circle cx="117.1" cy="314.8" r="1.45" fill="rgba(34,139,34,0.6)"/><circle cx="166.6" cy="312.3" r="1.45" fill="rgba(34,139,34,0.6)"/><circle cx="116.6" cy="316.0" r="1.45" fill="rgba(34,139,34,0.6)"/><circle cx="162.6" cy="313.4" r="1.45" fill="rgba(34,139,34,0.6)"/><circle cx="122.6" cy="317.9" r="1.45" fill="rgba(34,139,34,0.6)"/><circle cx="110.0" cy="312.4" r="1.45" fill="rgba(34,139,34,0.6)"/><circle cx="126.9" cy="313.2" r="1.45" fill="rgba(34,139,34,0.6)"/><circle cx="129.5" cy="314.3" r="1.45" fill="rgba(34,139,34,0.6)"/><circle cx="159.8" cy="312.4" r="1.45" fill="rgba(34,139,34,0.6)"/><circle cx="154.3" cy="317.6" r="1.45" fill="rgba(34,139,34,0.6)"/><circle cx="115.8" cy="316.1" r="1.45" fill="rgba(34,139,34,0.6)"/><circle cx="152.0" cy="317.9" r="1.45" fill="rgba(34,139,34,0.6)"/><circle cx="126.2" cy="314.7" r="1.45" fill="rgba(34,139,34,0.6)"/><circle cx="132.5" cy="318.5" r="1.45" fill="rgba(34,139,34,0.6)"/><circle cx="144.4" cy="314.6" r="1.45" fill="rgba(34,139,34,0.6)"/><circle cx="125.3" cy="312.7" r="1.45" fill="rgba(34,139,34,0.6)"/><circle cx="114.7" cy="315.2" r="1.45" fill="rgba(34,139,34,0.6)"/><circle cx="125.9" cy="318.2" r="1.45" fill="rgba(34,139,34,0.6)"/><circle cx="123.7" cy="314.0" r="1.45" fill="rgba(34,139,34,0.6)"/><circle cx="120.1" cy="314.5" r="1.45" fill="rgba(34,139,34,0.6)"/><circle cx="166.8" cy="312.3" r="1.45" fill="rgba(34,139,34,0.6)"/><circle cx="162.4" cy="313.6" r="1.45" fill="rgba(34,139,34,0.6)"/><circle cx="147.0" cy="318.0" r="1.45" fill="rgba(34,139,34,0.6)"/><circle cx="165.9" cy="312.3" r="1.45" fill="rgba(34,139,34,0.6)"/><circle cx="142.0" cy="316.8" r="1.45" fill="rgba(34,139,34,0.6)"/><circle cx="111.5" cy="313.4" r="1.45" fill="rgba(34,139,34,0.6)"/><circle cx="154.4" cy="316.3" r="1.45" fill="rgba(34,139,34,0.6)"/><circle cx="126.0" cy="312.7" r="1.45" fill="rgba(34,139,34,0.6)"/><circle cx="165.0" cy="312.3" r="1.45" fill="rgba(34,139,34,0.6)"/><circle cx="129.5" cy="314.2" r="1.45" fill="rgba(34,139,34,0.6)"/><circle cx="153.6" cy="318.4" r="1.45" fill="rgba(34,139,34,0.6)"/><circle cx="124.4" cy="316.4" r="1.45" fill="rgba(34,139,34,0.6)"/><circle cx="126.9" cy="315.8" r="1.45" fill="rgba(34,139,34,0.6)"/><circle cx="132.6" cy="313.4" r="1.45" fill="rgba(34,139,34,0.6)"/><circle cx="118.4" cy="313.4" r="1.45" fill="rgba(34,139,34,0.6)"/><circle cx="163.8" cy="312.7" r="1.45" fill="rgba(34,139,34,0.6)"/><circle cx="121.9" cy="318.0" r="1.45" fill="rgba(34,139,34,0.6)"/><circle cx="169.3" cy="312.3" r="1.45" fill="rgba(34,139,34,0.6)"/><circle cx="117.0" cy="313.2" r="1.45" fill="rgba(34,139,34,0.6)"/><circle cx="114.0" cy="313.4" r="1.45" fill="rgba(34,139,34,0.6)"/><circle cx="114.1" cy="313.1" r="1.45" fill="rgba(34,139,34,0.6)"/><circle cx="124.3" cy="315.9" r="1.45" fill="rgba(34,139,34,0.6)"/><circle cx="162.6" cy="313.4" r="1.45" fill="rgba(34,139,34,0.6)"/><circle cx="131.5" cy="314.5" r="1.45" fill="rgba(34,139,34,0.6)"/><circle cx="112.3" cy="312.9" r="1.45" fill="rgba(34,139,34,0.6)"/><circle cx="167.5" cy="312.3" r="1.45" fill="rgba(34,139,34,0.6)"/><circle cx="116.2" cy="314.5" r="1.45" fill="rgba(34,139,34,0.6)"/><circle cx="146.9" cy="317.7" r="1.45" fill="rgba(34,139,34,0.6)"/><circle cx="121.7" cy="314.0" r="1.45" fill="rgba(34,139,34,0.6)"/><circle cx="123.7" cy="314.8" r="1.45" fill="rgba(34,139,34,0.6)"/><circle cx="166.7" cy="312.3" r="1.45" fill="rgba(34,139,34,0.6)"/><circle cx="160.3" cy="315.0" r="1.45" fill="rgba(34,139,34,0.6)"/><circle cx="109.8" cy="312.4" r="1.45" fill="rgba(34,139,34,0.6)"/><circle cx="151.8" cy="317.9" r="1.45" fill="rgba(34,139,34,0.6)"/><circle cx="144.3" cy="312.4" r="1.45" fill="rgba(34,139,34,0.6)"/><circle cx="132.4" cy="318.1" r="1.45" fill="rgba(34,139,34,0.6)"/><circle cx="158.9" cy="315.7" r="1.45" fill="rgba(34,139,34,0.6)"/><circle cx="167.8" cy="312.3" r="1.45" fill="rgba(34,139,34,0.6)"/><circle cx="123.7" cy="313.0" r="1.45" fill="rgba(34,139,34,0.6)"/><circle cx="117.9" cy="315.0" r="1.45" fill="rgba(34,139,34,0.6)"/><circle cx="150.1" cy="318.2" r="1.45" fill="rgba(34,139,34,0.6)"/><circle cx="152.5" cy="316.4" r="1.45" fill="rgba(34,139,34,0.6)"/><circle cx="155.2" cy="315.2" r="1.45" fill="rgba(34,139,34,0.6)"/><circle cx="142.1" cy="312.6" r="1.45" fill="rgba(34,139,34,0.6)"/><circle cx="156.2" cy="313.7" r="1.45" fill="rgba(34,139,34,0.6)"/><circle cx="164.6" cy="312.4" r="1.45" fill="rgba(34,139,34,0.6)"/><circle cx="127.0" cy="313.2" r="1.45" fill="rgba(34,139,34,0.6)"/><circle cx="123.9" cy="316.3" r="1.45" fill="rgba(34,139,34,0.6)"/><circle cx="151.1" cy="313.1" r="1.45" fill="rgba(34,139,34,0.6)"/><circle cx="112.8" cy="313.6" r="1.45" fill="rgba(34,139,34,0.6)"/><circle cx="144.1" cy="314.8" r="1.45" fill="rgba(34,139,34,0.6)"/><circle cx="122.1" cy="316.1" r="1.45" fill="rgba(34,139,34,0.6)"/><circle cx="109.1" cy="312.3" r="1.45" fill="rgba(34,139,34,0.6)"/><circle cx="126.9" cy="315.2" r="1.45" fill="rgba(34,139,34,0.6)"/><circle cx="167.0" cy="312.3" r="1.45" fill="rgba(34,139,34,0.6)"/><circle cx="147.8" cy="317.8" r="1.45" fill="rgba(34,139,34,0.6)"/><circle cx="122.8" cy="313.9" r="1.45" fill="rgba(34,139,34,0.6)"/><circle cx="167.1" cy="312.3" r="1.45" fill="rgba(34,139,34,0.6)"/><circle cx="151.5" cy="314.3" r="1.45" fill="rgba(34,139,34,0.6)"/><circle cx="109.8" cy="312.3" r="1.45" fill="rgba(34,139,34,0.6)"/><circle cx="149.6" cy="315.0" r="1.45" fill="rgba(34,139,34,0.6)"/><circle cx="124.2" cy="316.5" r="1.45" fill="rgba(34,139,34,0.6)"/><circle cx="164.9" cy="312.3" r="1.45" fill="rgba(34,139,34,0.6)"/><circle cx="110.6" cy="312.6" r="1.45" fill="rgba(34,139,34,0.6)"/><circle cx="150.1" cy="313.6" r="1.45" fill="rgba(34,139,34,0.6)"/><circle cx="157.1" cy="316.1" r="1.45" fill="rgba(34,139,34,0.6)"/><circle cx="121.0" cy="318.4" r="1.45" fill="rgba(34,139,34,0.6)"/><circle cx="127.5" cy="317.4" r="1.45" fill="rgba(34,139,34,0.6)"/><circle cx="122.6" cy="313.7" r="1.45" fill="rgba(34,139,34,0.6)"/><circle cx="154.9" cy="314.2" r="1.45" fill="rgba(34,139,34,0.6)"/><circle cx="166.6" cy="312.3" r="1.45" fill="rgba(34,139,34,0.6)"/><circle cx="119.9" cy="313.7" r="1.45" fill="rgba(34,139,34,0.6)"/><circle cx="149.1" cy="318.2" r="1.45" fill="rgba(34,139,34,0.6)"/><circle cx="117.4" cy="314.2" r="1.45" fill="rgba(34,139,34,0.6)"/><circle cx="121.5" cy="318.4" r="1.45" fill="rgba(34,139,34,0.6)"/><circle cx="117.2" cy="312.6" r="1.45" fill="rgba(34,139,34,0.6)"/><circle cx="112.2" cy="313.1" r="1.45" fill="rgba(34,139,34,0.6)"/><circle cx="163.3" cy="313.2" r="1.45" fill="rgba(34,139,34,0.6)"/><circle cx="153.2" cy="318.5" r="1.45" fill="rgba(34,139,34,0.6)"/><circle cx="165.3" cy="312.2" r="1.45" fill="rgba(34,139,34,0.6)"/><circle cx="119.8" cy="317.7" r="1.45" fill="rgba(34,139,34,0.6)"/><circle cx="154.0" cy="312.6" r="1.45" fill="rgba(34,139,34,0.6)"/><circle cx="149.0" cy="314.7" r="1.45" fill="rgba(34,139,34,0.6)"/><circle cx="131.3" cy="314.4" r="1.45" fill="rgba(34,139,34,0.6)"/><circle cx="118.8" cy="312.4" r="1.45" fill="rgba(34,139,34,0.6)"/><circle cx="125.6" cy="314.5" r="1.45" fill="rgba(34,139,34,0.6)"/><circle cx="166.8" cy="312.3" r="1.45" fill="rgba(34,139,34,0.6)"/><circle cx="116.0" cy="316.3" r="1.45" fill="rgba(34,139,34,0.6)"/><circle cx="121.2" cy="314.6" r="1.45" fill="rgba(34,139,34,0.6)"/><circle cx="158.6" cy="315.7" r="1.45" fill="rgba(34,139,34,0.6)"/><circle cx="111.5" cy="313.0" r="1.45" fill="rgba(34,139,34,0.6)"/><circle cx="131.2" cy="318.1" r="1.45" fill="rgba(34,139,34,0.6)"/><circle cx="120.3" cy="314.5" r="1.45" fill="rgba(34,139,34,0.6)"/><circle cx="163.2" cy="312.4" r="1.45" fill="rgba(34,139,34,0.6)"/><circle cx="158.0" cy="315.8" r="1.45" fill="rgba(34,139,34,0.6)"/><circle cx="111.0" cy="312.4" r="1.45" fill="rgba(34,139,34,0.6)"/><circle cx="112.3" cy="314.2" r="1.45" fill="rgba(34,139,34,0.6)"/><circle cx="124.2" cy="317.0" r="1.45" fill="rgba(34,139,34,0.6)"/><circle cx="163.3" cy="312.7" r="1.45" fill="rgba(34,139,34,0.6)"/><circle cx="125.1" cy="318.3" r="1.45" fill="rgba(34,139,34,0.6)"/><circle cx="146.1" cy="314.0" r="1.45" fill="rgba(34,139,34,0.6)"/><circle cx="152.2" cy="314.3" r="1.45" fill="rgba(34,139,34,0.6)"/><circle cx="125.3" cy="312.4" r="1.45" fill="rgba(34,139,34,0.6)"/><circle cx="154.6" cy="318.0" r="1.45" fill="rgba(34,139,34,0.6)"/><circle cx="147.2" cy="318.2" r="1.45" fill="rgba(34,139,34,0.6)"/><circle cx="110.0" cy="312.4" r="1.45" fill="rgba(34,139,34,0.6)"/><circle cx="166.9" cy="312.3" r="1.45" fill="rgba(34,139,34,0.6)"/><circle cx="166.7" cy="312.3" r="1.45" fill="rgba(34,139,34,0.6)"/><circle cx="132.1" cy="313.9" r="1.45" fill="rgba(34,139,34,0.6)"/><circle cx="165.1" cy="312.3" r="1.45" fill="rgba(34,139,34,0.6)"/><circle cx="157.5" cy="316.0" r="1.45" fill="rgba(34,139,34,0.6)"/><circle cx="158.7" cy="315.5" r="1.45" fill="rgba(34,139,34,0.6)"/><circle cx="145.5" cy="314.4" r="1.45" fill="rgba(34,139,34,0.6)"/><circle cx="128.0" cy="314.6" r="1.45" fill="rgba(34,139,34,0.6)"/><circle cx="156.2" cy="312.8" r="1.45" fill="rgba(34,139,34,0.6)"/><circle cx="120.5" cy="316.9" r="1.45" fill="rgba(34,139,34,0.6)"/><circle cx="123.6" cy="312.8" r="1.45" fill="rgba(34,139,34,0.6)"/><circle cx="110.6" cy="312.7" r="1.45" fill="rgba(34,139,34,0.6)"/><circle cx="128.4" cy="318.4" r="1.45" fill="rgba(34,139,34,0.6)"/><circle cx="162.4" cy="313.9" r="1.45" fill="rgba(34,139,34,0.6)"/><circle cx="124.7" cy="312.9" r="1.45" fill="rgba(34,139,34,0.6)"/><circle cx="114.4" cy="314.0" r="1.45" fill="rgba(34,139,34,0.6)"/><circle cx="151.8" cy="315.1" r="1.45" fill="rgba(34,139,34,0.6)"/><circle cx="122.8" cy="314.9" r="1.45" fill="rgba(34,139,34,0.6)"/><circle cx="146.3" cy="316.5" r="1.45" fill="rgba(34,139,34,0.6)"/><circle cx="154.1" cy="317.6" r="1.45" fill="rgba(34,139,34,0.6)"/><circle cx="149.0" cy="313.1" r="1.45" fill="rgba(34,139,34,0.6)"/><circle cx="159.8" cy="313.3" r="1.45" fill="rgba(34,139,34,0.6)"/><circle cx="143.1" cy="314.7" r="1.45" fill="rgba(34,139,34,0.6)"/><circle cx="153.5" cy="313.6" r="1.45" fill="rgba(34,139,34,0.6)"/><circle cx="123.6" cy="313.9" r="1.45" fill="rgba(34,139,34,0.6)"/><circle cx="117.9" cy="316.7" r="1.45" fill="rgba(34,139,34,0.6)"/><circle cx="143.8" cy="314.4" r="1.45" fill="rgba(34,139,34,0.6)"/><circle cx="132.7" cy="318.5" r="1.45" fill="rgba(34,139,34,0.6)"/><circle cx="122.6" cy="317.4" r="1.45" fill="rgba(34,139,34,0.6)"/><circle cx="148.4" cy="318.5" r="1.45" fill="rgba(34,139,34,0.6)"/><circle cx="114.7" cy="314.0" r="1.45" fill="rgba(34,139,34,0.6)"/><circle cx="158.5" cy="315.9" r="1.45" fill="rgba(34,139,34,0.6)"/><circle cx="164.3" cy="312.4" r="1.45" fill="rgba(34,139,34,0.6)"/><circle cx="126.4" cy="313.1" r="1.45" fill="rgba(34,139,34,0.6)"/><circle cx="120.1" cy="318.0" r="1.45" fill="rgba(34,139,34,0.6)"/><circle cx="144.1" cy="318.1" r="1.45" fill="rgba(34,139,34,0.6)"/><circle cx="131.2" cy="317.7" r="1.45" fill="rgba(34,139,34,0.6)"/><circle cx="124.4" cy="317.2" r="1.45" fill="rgba(34,139,34,0.6)"/><circle cx="166.2" cy="312.3" r="1.45" fill="rgba(34,139,34,0.6)"/><circle cx="115.0" cy="314.5" r="1.45" fill="rgba(34,139,34,0.6)"/><circle cx="146.3" cy="313.7" r="1.45" fill="rgba(34,139,34,0.6)"/><circle cx="131.0" cy="313.2" r="1.45" fill="rgba(34,139,34,0.6)"/><circle cx="120.9" cy="313.9" r="1.45" fill="rgba(34,139,34,0.6)"/><circle cx="145.1" cy="316.4" r="1.45" fill="rgba(34,139,34,0.6)"/><circle cx="120.9" cy="312.4" r="1.45" fill="rgba(34,139,34,0.6)"/><circle cx="128.5" cy="316.6" r="1.45" fill="rgba(34,139,34,0.6)"/><circle cx="119.8" cy="314.1" r="1.45" fill="rgba(34,139,34,0.6)"/><circle cx="120.9" cy="317.3" r="1.45" fill="rgba(34,139,34,0.6)"/><circle cx="141.9" cy="312.8" r="1.45" fill="rgba(34,139,34,0.6)"/><circle cx="114.7" cy="313.7" r="1.45" fill="rgba(34,139,34,0.6)"/><circle cx="142.1" cy="316.3" r="1.45" fill="rgba(34,139,34,0.6)"/><circle cx="114.1" cy="312.9" r="1.45" fill="rgba(34,139,34,0.6)"/><circle cx="150.9" cy="314.9" r="1.45" fill="rgba(34,139,34,0.6)"/><circle cx="125.8" cy="314.3" r="1.45" fill="rgba(34,139,34,0.6)"/><circle cx="166.6" cy="312.3" r="1.45" fill="rgba(34,139,34,0.6)"/><circle cx="127.6" cy="315.9" r="1.45" fill="rgba(34,139,34,0.6)"/><circle cx="130.3" cy="314.9" r="1.45" fill="rgba(34,139,34,0.6)"/><circle cx="161.2" cy="314.7" r="1.45" fill="rgba(34,139,34,0.6)"/><circle cx="130.7" cy="313.6" r="1.45" fill="rgba(34,139,34,0.6)"/><circle cx="152.9" cy="313.6" r="1.45" fill="rgba(34,139,34,0.6)"/><circle cx="108.9" cy="312.3" r="1.45" fill="rgba(34,139,34,0.6)"/><circle cx="163.5" cy="312.7" r="1.45" fill="rgba(34,139,34,0.6)"/><circle cx="158.5" cy="314.1" r="1.45" fill="rgba(34,139,34,0.6)"/><circle cx="162.4" cy="313.1" r="1.45" fill="rgba(34,139,34,0.6)"/><circle cx="118.4" cy="312.4" r="1.45" fill="rgba(34,139,34,0.6)"/><circle cx="142.1" cy="316.3" r="1.45" fill="rgba(34,139,34,0.6)"/><circle cx="164.0" cy="312.4" r="1.45" fill="rgba(34,139,34,0.6)"/><circle cx="146.5" cy="314.7" r="1.45" fill="rgba(34,139,34,0.6)"/><circle cx="117.4" cy="313.7" r="1.45" fill="rgba(34,139,34,0.6)"/><circle cx="165.0" cy="312.3" r="1.45" fill="rgba(34,139,34,0.6)"/><circle cx="157.6" cy="317.0" r="1.45" fill="rgba(34,139,34,0.6)"/><circle cx="120.5" cy="313.1" r="1.45" fill="rgba(34,139,34,0.6)"/><circle cx="166.0" cy="312.3" r="1.45" fill="rgba(34,139,34,0.6)"/><circle cx="168.0" cy="312.3" r="1.45" fill="rgba(34,139,34,0.6)"/><circle cx="111.8" cy="313.9" r="1.45" fill="rgba(34,139,34,0.6)"/><circle cx="132.2" cy="318.0" r="1.45" fill="rgba(34,139,34,0.6)"/><circle cx="146.3" cy="317.5" r="1.45" fill="rgba(34,139,34,0.6)"/><circle cx="118.3" cy="316.4" r="1.45" fill="rgba(34,139,34,0.6)"/><circle cx="122.0" cy="314.9" r="1.45" fill="rgba(34,139,34,0.6)"/><circle cx="160.1" cy="314.9" r="1.45" fill="rgba(34,139,34,0.6)"/><circle cx="119.7" cy="313.6" r="1.45" fill="rgba(34,139,34,0.6)"/><circle cx="132.9" cy="315.6" r="1.45" fill="rgba(34,139,34,0.6)"/><circle cx="131.9" cy="313.1" r="1.45" fill="rgba(34,139,34,0.6)"/><circle cx="123.6" cy="316.8" r="1.45" fill="rgba(34,139,34,0.6)"/><circle cx="163.2" cy="312.4" r="1.45" fill="rgba(34,139,34,0.6)"/><circle cx="142.8" cy="317.0" r="1.45" fill="rgba(34,139,34,0.6)"/><circle cx="110.8" cy="313.1" r="1.45" fill="rgba(34,139,34,0.6)"/><circle cx="115.7" cy="314.7" r="1.45" fill="rgba(34,139,34,0.6)"/><circle cx="142.1" cy="316.2" r="1.45" fill="rgba(34,139,34,0.6)"/><circle cx="127.2" cy="315.0" r="1.45" fill="rgba(34,139,34,0.6)"/><circle cx="144.0" cy="315.0" r="1.45" fill="rgba(34,139,34,0.6)"/><circle cx="148.7" cy="315.1" r="1.45" fill="rgba(34,139,34,0.6)"/><circle cx="109.9" cy="312.3" r="1.45" fill="rgba(34,139,34,0.6)"/><circle cx="122.9" cy="317.1" r="1.45" fill="rgba(34,139,34,0.6)"/><circle cx="156.1" cy="315.0" r="1.45" fill="rgba(34,139,34,0.6)"/><circle cx="119.5" cy="315.0" r="1.45" fill="rgba(34,139,34,0.6)"/><circle cx="115.0" cy="312.8" r="1.45" fill="rgba(34,139,34,0.6)"/><circle cx="114.1" cy="313.7" r="1.45" fill="rgba(34,139,34,0.6)"/><circle cx="111.0" cy="313.0" r="1.45" fill="rgba(34,139,34,0.6)"/><circle cx="113.5" cy="314.4" r="1.45" fill="rgba(34,139,34,0.6)"/><circle cx="155.9" cy="315.4" r="1.45" fill="rgba(34,139,34,0.6)"/><circle cx="111.8" cy="313.2" r="1.45" fill="rgba(34,139,34,0.6)"/><circle cx="131.5" cy="318.2" r="1.45" fill="rgba(34,139,34,0.6)"/><circle cx="116.8" cy="316.2" r="1.45" fill="rgba(34,139,34,0.6)"/><circle cx="169.3" cy="312.3" r="1.45" fill="rgba(34,139,34,0.6)"/><circle cx="153.2" cy="317.4" r="1.45" fill="rgba(34,139,34,0.6)"/><circle cx="120.3" cy="318.2" r="1.45" fill="rgba(34,139,34,0.6)"/><circle cx="166.9" cy="312.3" r="1.45" fill="rgba(34,139,34,0.6)"/><circle cx="164.4" cy="312.4" r="1.45" fill="rgba(34,139,34,0.6)"/><circle cx="156.6" cy="317.4" r="1.45" fill="rgba(34,139,34,0.6)"/><circle cx="112.5" cy="313.1" r="1.45" fill="rgba(34,139,34,0.6)"/><circle cx="154.6" cy="313.3" r="1.45" fill="rgba(34,139,34,0.6)"/><circle cx="163.2" cy="312.7" r="1.45" fill="rgba(34,139,34,0.6)"/><circle cx="158.3" cy="313.0" r="1.45" fill="rgba(34,139,34,0.6)"/><circle cx="164.6" cy="312.4" r="1.45" fill="rgba(34,139,34,0.6)"/><circle cx="124.5" cy="315.5" r="1.45" fill="rgba(34,139,34,0.6)"/><circle cx="128.0" cy="312.6" r="1.45" fill="rgba(34,139,34,0.6)"/><circle cx="119.6" cy="313.3" r="1.45" fill="rgba(34,139,34,0.6)"/><circle cx="165.6" cy="312.3" r="1.45" fill="rgba(34,139,34,0.6)"/><circle cx="150.0" cy="317.9" r="1.45" fill="rgba(34,139,34,0.6)"/><circle cx="118.8" cy="316.5" r="1.45" fill="rgba(34,139,34,0.6)"/><circle cx="115.5" cy="314.4" r="1.45" fill="rgba(34,139,34,0.6)"/><circle cx="147.3" cy="314.6" r="1.45" fill="rgba(34,139,34,0.6)"/><circle cx="161.8" cy="313.5" r="1.45" fill="rgba(34,139,34,0.6)"/><circle cx="143.9" cy="317.8" r="1.45" fill="rgba(34,139,34,0.6)"/><circle cx="114.9" cy="315.9" r="1.45" fill="rgba(34,139,34,0.6)"/><circle cx="146.9" cy="314.8" r="1.45" fill="rgba(34,139,34,0.6)"/><circle cx="157.2" cy="313.7" r="1.45" fill="rgba(34,139,34,0.6)"/><circle cx="168.9" cy="312.3" r="1.45" fill="rgba(34,139,34,0.6)"/><circle cx="143.7" cy="314.6" r="1.45" fill="rgba(34,139,34,0.6)"/><circle cx="155.1" cy="315.1" r="1.45" fill="rgba(34,139,34,0.6)"/><circle cx="119.3" cy="316.5" r="1.45" fill="rgba(34,139,34,0.6)"/><circle cx="111.4" cy="313.5" r="1.45" fill="rgba(34,139,34,0.6)"/><circle cx="124.0" cy="316.3" r="1.45" fill="rgba(34,139,34,0.6)"/><circle cx="168.5" cy="312.3" r="1.45" fill="rgba(34,139,34,0.6)"/><circle cx="144.2" cy="316.5" r="1.45" fill="rgba(34,139,34,0.6)"/><circle cx="127.6" cy="312.4" r="1.45" fill="rgba(34,139,34,0.6)"/><circle cx="110.6" cy="312.5" r="1.45" fill="rgba(34,139,34,0.6)"/><circle cx="146.1" cy="315.0" r="1.45" fill="rgba(34,139,34,0.6)"/><circle cx="163.1" cy="312.5" r="1.45" fill="rgba(34,139,34,0.6)"/><circle cx="122.4" cy="316.4" r="1.45" fill="rgba(34,139,34,0.6)"/><circle cx="109.9" cy="312.4" r="1.45" fill="rgba(34,139,34,0.6)"/><circle cx="130.2" cy="313.0" r="1.45" fill="rgba(34,139,34,0.6)"/><circle cx="130.3" cy="313.7" r="1.45" fill="rgba(34,139,34,0.6)"/><circle cx="144.1" cy="316.0" r="1.45" fill="rgba(34,139,34,0.6)"/><circle cx="121.0" cy="316.2" r="1.45" fill="rgba(34,139,34,0.6)"/><circle cx="116.7" cy="316.5" r="1.45" fill="rgba(34,139,34,0.6)"/><circle cx="123.4" cy="313.3" r="1.45" fill="rgba(34,139,34,0.6)"/><circle cx="114.3" cy="314.4" r="1.45" fill="rgba(34,139,34,0.6)"/><circle cx="161.6" cy="314.0" r="1.45" fill="rgba(34,139,34,0.6)"/><circle cx="133.0" cy="314.0" r="1.45" fill="rgba(34,139,34,0.6)"/><circle cx="109.2" cy="312.3" r="1.45" fill="rgba(34,139,34,0.6)"/><circle cx="147.8" cy="315.8" r="1.45" fill="rgba(34,139,34,0.6)"/><circle cx="129.9" cy="316.4" r="1.45" fill="rgba(34,139,34,0.6)"/><circle cx="165.7" cy="312.3" r="1.45" fill="rgba(34,139,34,0.6)"/><circle cx="153.2" cy="313.9" r="1.45" fill="rgba(34,139,34,0.6)"/><circle cx="163.6" cy="312.4" r="1.45" fill="rgba(34,139,34,0.6)"/><circle cx="133.3" cy="313.8" r="1.45" fill="rgba(34,139,34,0.6)"/><circle cx="112.1" cy="313.8" r="1.45" fill="rgba(34,139,34,0.6)"/><circle cx="109.3" cy="312.3" r="1.45" fill="rgba(34,139,34,0.6)"/><circle cx="142.1" cy="318.2" r="1.45" fill="rgba(34,139,34,0.6)"/><circle cx="117.2" cy="313.3" r="1.45" fill="rgba(34,139,34,0.6)"/><circle cx="145.6" cy="315.5" r="1.45" fill="rgba(34,139,34,0.6)"/><circle cx="147.6" cy="317.4" r="1.45" fill="rgba(34,139,34,0.6)"/><circle cx="119.2" cy="314.1" r="1.45" fill="rgba(34,139,34,0.6)"/><circle cx="126.8" cy="312.7" r="1.45" fill="rgba(34,139,34,0.6)"/><circle cx="162.8" cy="313.4" r="1.45" fill="rgba(34,139,34,0.6)"/><circle cx="152.1" cy="312.4" r="1.45" fill="rgba(34,139,34,0.6)"/><circle cx="160.0" cy="314.7" r="1.45" fill="rgba(34,139,34,0.6)"/><circle cx="153.7" cy="315.2" r="1.45" fill="rgba(34,139,34,0.6)"/><circle cx="122.3" cy="313.0" r="1.45" fill="rgba(34,139,34,0.6)"/><circle cx="122.7" cy="312.6" r="1.45" fill="rgba(34,139,34,0.6)"/><circle cx="129.0" cy="317.0" r="1.45" fill="rgba(34,139,34,0.6)"/><circle cx="150.9" cy="317.6" r="1.45" fill="rgba(34,139,34,0.6)"/><circle cx="151.9" cy="314.0" r="1.45" fill="rgba(34,139,34,0.6)"/><circle cx="142.3" cy="315.1" r="1.45" fill="rgba(34,139,34,0.6)"/><circle cx="156.6" cy="315.2" r="1.45" fill="rgba(34,139,34,0.6)"/><circle cx="124.7" cy="316.3" r="1.45" fill="rgba(34,139,34,0.6)"/><circle cx="167.4" cy="312.3" r="1.45" fill="rgba(34,139,34,0.6)"/><circle cx="121.7" cy="317.8" r="1.45" fill="rgba(34,139,34,0.6)"/><circle cx="109.4" cy="312.3" r="1.45" fill="rgba(34,139,34,0.6)"/><circle cx="124.4" cy="313.8" r="1.45" fill="rgba(34,139,34,0.6)"/><circle cx="153.9" cy="318.2" r="1.45" fill="rgba(34,139,34,0.6)"/><circle cx="154.0" cy="314.4" r="1.45" fill="rgba(34,139,34,0.6)"/><circle cx="162.2" cy="312.9" r="1.45" fill="rgba(34,139,34,0.6)"/><circle cx="123.1" cy="318.0" r="1.45" fill="rgba(34,139,34,0.6)"/><circle cx="147.0" cy="316.6" r="1.45" fill="rgba(34,139,34,0.6)"/><circle cx="149.1" cy="318.4" r="1.45" fill="rgba(34,139,34,0.6)"/><circle cx="159.7" cy="314.7" r="1.45" fill="rgba(34,139,34,0.6)"/><circle cx="160.8" cy="313.5" r="1.45" fill="rgba(34,139,34,0.6)"/><circle cx="152.7" cy="315.9" r="1.45" fill="rgba(34,139,34,0.6)"/><circle cx="127.3" cy="313.7" r="1.45" fill="rgba(34,139,34,0.6)"/><circle cx="146.5" cy="312.8" r="1.45" fill="rgba(34,139,34,0.6)"/><circle cx="164.1" cy="312.4" r="1.45" fill="rgba(34,139,34,0.6)"/><circle cx="110.1" cy="312.4" r="1.45" fill="rgba(34,139,34,0.6)"/><circle cx="165.2" cy="312.3" r="1.45" fill="rgba(34,139,34,0.6)"/><circle cx="117.2" cy="312.5" r="1.45" fill="rgba(34,139,34,0.6)"/><circle cx="111.0" cy="313.1" r="1.45" fill="rgba(34,139,34,0.6)"/><circle cx="147.2" cy="316.7" r="1.45" fill="rgba(34,139,34,0.6)"/><circle cx="153.4" cy="312.8" r="1.45" fill="rgba(34,139,34,0.6)"/><circle cx="144.5" cy="314.6" r="1.45" fill="rgba(34,139,34,0.6)"/><circle cx="158.4" cy="315.9" r="1.45" fill="rgba(34,139,34,0.6)"/><circle cx="162.9" cy="312.4" r="1.45" fill="rgba(34,139,34,0.6)"/><circle cx="161.4" cy="314.4" r="1.45" fill="rgba(34,139,34,0.6)"/><circle cx="166.1" cy="312.3" r="1.45" fill="rgba(34,139,34,0.6)"/><circle cx="115.0" cy="313.1" r="1.45" fill="rgba(34,139,34,0.6)"/><circle cx="115.3" cy="312.5" r="1.45" fill="rgba(34,139,34,0.6)"/><circle cx="160.2" cy="314.8" r="1.45" fill="rgba(34,139,34,0.6)"/><circle cx="147.2" cy="317.5" r="1.45" fill="rgba(34,139,34,0.6)"/><circle cx="147.0" cy="314.1" r="1.45" fill="rgba(34,139,34,0.6)"/><circle cx="114.6" cy="312.7" r="1.45" fill="rgba(34,139,34,0.6)"/><circle cx="154.7" cy="313.6" r="1.45" fill="rgba(34,139,34,0.6)"/><circle cx="128.0" cy="315.0" r="1.45" fill="rgba(34,139,34,0.6)"/><circle cx="109.8" cy="312.3" r="1.45" fill="rgba(34,139,34,0.6)"/><circle cx="125.7" cy="316.8" r="1.45" fill="rgba(34,139,34,0.6)"/><circle cx="130.9" cy="314.3" r="1.45" fill="rgba(34,139,34,0.6)"/><circle cx="167.3" cy="312.3" r="1.45" fill="rgba(34,139,34,0.6)"/><circle cx="160.4" cy="314.2" r="1.45" fill="rgba(34,139,34,0.6)"/><circle cx="110.4" cy="312.5" r="1.45" fill="rgba(34,139,34,0.6)"/><circle cx="155.7" cy="314.5" r="1.45" fill="rgba(34,139,34,0.6)"/><circle cx="151.5" cy="315.7" r="1.45" fill="rgba(34,139,34,0.6)"/><circle cx="121.7" cy="317.7" r="1.45" fill="rgba(34,139,34,0.6)"/><circle cx="114.0" cy="314.9" r="1.45" fill="rgba(34,139,34,0.6)"/><circle cx="118.9" cy="312.4" r="1.45" fill="rgba(34,139,34,0.6)"/><circle cx="120.8" cy="317.0" r="1.45" fill="rgba(34,139,34,0.6)"/><circle cx="168.1" cy="312.3" r="1.45" fill="rgba(34,139,34,0.6)"/><circle cx="108.8" cy="312.3" r="1.45" fill="rgba(34,139,34,0.6)"/><circle cx="157.1" cy="313.3" r="1.45" fill="rgba(34,139,34,0.6)"/><circle cx="129.7" cy="317.5" r="1.45" fill="rgba(34,139,34,0.6)"/><circle cx="124.4" cy="318.2" r="1.45" fill="rgba(34,139,34,0.6)"/><circle cx="125.8" cy="313.7" r="1.45" fill="rgba(34,139,34,0.6)"/><circle cx="151.2" cy="315.4" r="1.45" fill="rgba(34,139,34,0.6)"/><circle cx="115.2" cy="314.7" r="1.45" fill="rgba(34,139,34,0.6)"/><circle cx="113.4" cy="314.5" r="1.45" fill="rgba(34,139,34,0.6)"/><circle cx="151.0" cy="317.2" r="1.45" fill="rgba(34,139,34,0.6)"/><circle cx="146.8" cy="314.6" r="1.45" fill="rgba(34,139,34,0.6)"/><circle cx="133.0" cy="314.8" r="1.45" fill="rgba(34,139,34,0.6)"/><circle cx="162.8" cy="312.5" r="1.45" fill="rgba(34,139,34,0.6)"/><circle cx="162.7" cy="312.4" r="1.45" fill="rgba(34,139,34,0.6)"/><circle cx="121.1" cy="314.0" r="1.45" fill="rgba(34,139,34,0.6)"/><circle cx="163.5" cy="312.8" r="1.45" fill="rgba(34,139,34,0.6)"/><circle cx="131.6" cy="317.8" r="1.45" fill="rgba(34,139,34,0.6)"/><circle cx="122.7" cy="315.2" r="1.45" fill="rgba(34,139,34,0.6)"/><circle cx="154.5" cy="317.0" r="1.45" fill="rgba(34,139,34,0.6)"/><circle cx="147.9" cy="314.5" r="1.45" fill="rgba(34,139,34,0.6)"/><circle cx="128.4" cy="313.3" r="1.45" fill="rgba(34,139,34,0.6)"/><circle cx="159.9" cy="314.5" r="1.45" fill="rgba(34,139,34,0.6)"/><circle cx="153.8" cy="313.4" r="1.45" fill="rgba(34,139,34,0.6)"/><circle cx="155.7" cy="315.9" r="1.45" fill="rgba(34,139,34,0.6)"/><circle cx="116.2" cy="314.3" r="1.45" fill="rgba(34,139,34,0.6)"/><circle cx="162.5" cy="312.7" r="1.45" fill="rgba(34,139,34,0.6)"/><circle cx="120.2" cy="314.1" r="1.45" fill="rgba(34,139,34,0.6)"/><circle cx="151.4" cy="317.6" r="1.45" fill="rgba(34,139,34,0.6)"/><circle cx="117.9" cy="313.1" r="1.45" fill="rgba(34,139,34,0.6)"/><circle cx="123.6" cy="314.4" r="1.45" fill="rgba(34,139,34,0.6)"/><circle cx="118.3" cy="314.0" r="1.45" fill="rgba(34,139,34,0.6)"/><circle cx="120.0" cy="318.0" r="1.45" fill="rgba(34,139,34,0.6)"/><circle cx="153.0" cy="313.0" r="1.45" fill="rgba(34,139,34,0.6)"/><circle cx="167.2" cy="312.3" r="1.45" fill="rgba(34,139,34,0.6)"/><circle cx="114.7" cy="313.7" r="1.45" fill="rgba(34,139,34,0.6)"/><circle cx="168.5" cy="312.3" r="1.45" fill="rgba(34,139,34,0.6)"/><circle cx="157.0" cy="316.2" r="1.45" fill="rgba(34,139,34,0.6)"/><circle cx="120.5" cy="316.2" r="1.45" fill="rgba(34,139,34,0.6)"/><circle cx="115.0" cy="313.1" r="1.45" fill="rgba(34,139,34,0.6)"/><circle cx="132.2" cy="312.6" r="1.45" fill="rgba(34,139,34,0.6)"/><circle cx="132.8" cy="317.3" r="1.45" fill="rgba(34,139,34,0.6)"/><circle cx="150.8" cy="315.5" r="1.45" fill="rgba(34,139,34,0.6)"/><circle cx="147.1" cy="315.2" r="1.45" fill="rgba(34,139,34,0.6)"/><circle cx="117.2" cy="315.2" r="1.45" fill="rgba(34,139,34,0.6)"/><circle cx="133.2" cy="316.9" r="1.45" fill="rgba(34,139,34,0.6)"/><circle cx="163.9" cy="312.6" r="1.45" fill="rgba(34,139,34,0.6)"/><circle cx="143.5" cy="317.0" r="1.45" fill="rgba(34,139,34,0.6)"/><circle cx="122.4" cy="316.8" r="1.45" fill="rgba(34,139,34,0.6)"/><circle cx="162.2" cy="313.7" r="1.45" fill="rgba(34,139,34,0.6)"/><circle cx="151.2" cy="317.6" r="1.45" fill="rgba(34,139,34,0.6)"/><circle cx="150.0" cy="316.3" r="1.45" fill="rgba(34,139,34,0.6)"/><circle cx="127.6" cy="316.2" r="1.45" fill="rgba(34,139,34,0.6)"/><circle cx="114.5" cy="313.8" r="1.45" fill="rgba(34,139,34,0.6)"/><circle cx="156.2" cy="316.4" r="1.45" fill="rgba(34,139,34,0.6)"/><circle cx="146.9" cy="313.9" r="1.45" fill="rgba(34,139,34,0.6)"/><circle cx="146.4" cy="314.9" r="1.45" fill="rgba(34,139,34,0.6)"/><circle cx="149.7" cy="318.1" r="1.45" fill="rgba(34,139,34,0.6)"/><circle cx="119.7" cy="316.1" r="1.45" fill="rgba(34,139,34,0.6)"/><circle cx="156.0" cy="314.6" r="1.45" fill="rgba(34,139,34,0.6)"/><circle cx="168.0" cy="312.3" r="1.45" fill="rgba(34,139,34,0.6)"/><circle cx="110.8" cy="312.8" r="1.45" fill="rgba(34,139,34,0.6)"/><circle cx="118.3" cy="316.4" r="1.45" fill="rgba(34,139,34,0.6)"/><circle cx="165.9" cy="312.3" r="1.45" fill="rgba(34,139,34,0.6)"/><circle cx="114.7" cy="314.3" r="1.45" fill="rgba(34,139,34,0.6)"/><circle cx="141.5" cy="316.8" r="1.45" fill="rgba(34,139,34,0.6)"/><circle cx="147.5" cy="317.5" r="1.45" fill="rgba(34,139,34,0.6)"/><circle cx="166.3" cy="312.3" r="1.45" fill="rgba(34,139,34,0.6)"/><circle cx="121.3" cy="316.6" r="1.45" fill="rgba(34,139,34,0.6)"/><circle cx="132.4" cy="317.1" r="1.45" fill="rgba(34,139,34,0.6)"/><circle cx="116.0" cy="316.4" r="1.45" fill="rgba(34,139,34,0.6)"/><circle cx="130.2" cy="312.7" r="1.45" fill="rgba(34,139,34,0.6)"/><circle cx="125.2" cy="314.8" r="1.45" fill="rgba(34,139,34,0.6)"/><circle cx="109.3" cy="312.3" r="1.45" fill="rgba(34,139,34,0.6)"/><circle cx="151.1" cy="314.5" r="1.45" fill="rgba(34,139,34,0.6)"/><circle cx="124.7" cy="313.7" r="1.45" fill="rgba(34,139,34,0.6)"/><circle cx="153.7" cy="318.2" r="1.45" fill="rgba(34,139,34,0.6)"/><circle cx="121.9" cy="317.3" r="1.45" fill="rgba(34,139,34,0.6)"/><circle cx="132.4" cy="313.7" r="1.45" fill="rgba(34,139,34,0.6)"/><circle cx="116.4" cy="315.7" r="1.45" fill="rgba(34,139,34,0.6)"/><circle cx="157.9" cy="315.3" r="1.45" fill="rgba(34,139,34,0.6)"/><circle cx="107.4" cy="314.0" r="1.3" fill="rgba(34,139,34,0.4)"/><circle cx="170.5" cy="312.0" r="1.3" fill="rgba(34,139,34,0.4)"/><circle cx="172.0" cy="313.0" r="1.3" fill="rgba(34,139,34,0.3)"/><path d="M133.3,311 L136.3,311 L137.2,315.2 L138.1,311 L140.3,311 L140.3,319.8 Q137,321.2 133.3,320.2 Z" fill="#555"/><path d="M133.7,311.2 L133.8,305.5 Q134.6,303.2 135.6,304 L136.3,307.5 L136.3,311.2 Z" fill="#6F8FE6"/><path d="M138.1,311.2 L138.2,307 Q138.8,303.5 139.6,303.7 Q140.4,304.5 140.3,307 L140.3,311.2 Z" fill="#6F8FE6"/><circle cx="141.0" cy="301.2" r="1.3" fill="rgba(65,105,225,0.35)"/><circle cx="134.6" cy="302.8" r="1.2" fill="rgba(65,105,225,0.35)"/><circle cx="119.3" cy="306.3" r="1.45" fill="rgba(240,30,0,0.55)"/><circle cx="130.7" cy="308.0" r="1.45" fill="rgba(240,30,0,0.55)"/><circle cx="127.4" cy="307.5" r="1.45" fill="rgba(240,30,0,0.55)"/><circle cx="115.3" cy="305.8" r="1.45" fill="rgba(240,30,0,0.55)"/><circle cx="127.7" cy="309.0" r="1.45" fill="rgba(240,30,0,0.55)"/><circle cx="114.7" cy="306.2" r="1.45" fill="rgba(240,30,0,0.55)"/><circle cx="118.3" cy="304.8" r="1.45" fill="rgba(240,30,0,0.55)"/><circle cx="125.1" cy="306.1" r="1.45" fill="rgba(240,30,0,0.55)"/><circle cx="115.5" cy="307.1" r="1.45" fill="rgba(240,30,0,0.55)"/><circle cx="123.2" cy="307.0" r="1.45" fill="rgba(240,30,0,0.55)"/><circle cx="129.9" cy="305.9" r="1.45" fill="rgba(240,30,0,0.55)"/><circle cx="127.6" cy="308.9" r="1.45" fill="rgba(240,30,0,0.55)"/><circle cx="111.7" cy="308.2" r="1.45" fill="rgba(240,30,0,0.55)"/><circle cx="108.8" cy="309.5" r="1.45" fill="rgba(240,30,0,0.55)"/><circle cx="123.6" cy="305.4" r="1.45" fill="rgba(240,30,0,0.55)"/><circle cx="111.8" cy="308.7" r="1.45" fill="rgba(240,30,0,0.55)"/><circle cx="116.5" cy="309.3" r="1.45" fill="rgba(240,30,0,0.55)"/><circle cx="126.7" cy="309.2" r="1.45" fill="rgba(240,30,0,0.55)"/><circle cx="122.5" cy="308.4" r="1.45" fill="rgba(240,30,0,0.55)"/><circle cx="129.1" cy="309.1" r="1.45" fill="rgba(240,30,0,0.55)"/><circle cx="113.0" cy="307.7" r="1.45" fill="rgba(240,30,0,0.55)"/><circle cx="125.6" cy="309.2" r="1.45" fill="rgba(240,30,0,0.55)"/><circle cx="121.3" cy="306.0" r="1.45" fill="rgba(240,30,0,0.55)"/><circle cx="111.7" cy="305.5" r="1.45" fill="rgba(240,30,0,0.55)"/><circle cx="119.3" cy="307.2" r="1.45" fill="rgba(240,30,0,0.55)"/><circle cx="120.0" cy="309.1" r="1.45" fill="rgba(240,30,0,0.55)"/><circle cx="108.7" cy="307.5" r="1.45" fill="rgba(240,30,0,0.55)"/><circle cx="121.5" cy="309.1" r="1.45" fill="rgba(240,30,0,0.55)"/><circle cx="117.1" cy="309.6" r="1.45" fill="rgba(240,30,0,0.55)"/><circle cx="110.2" cy="308.2" r="1.45" fill="rgba(240,30,0,0.55)"/><circle cx="109.2" cy="308.3" r="1.45" fill="rgba(240,30,0,0.55)"/><circle cx="130.0" cy="309.7" r="1.45" fill="rgba(240,30,0,0.55)"/><circle cx="120.3" cy="309.3" r="1.45" fill="rgba(240,30,0,0.55)"/><circle cx="109.3" cy="308.1" r="1.45" fill="rgba(240,30,0,0.55)"/><circle cx="116.3" cy="307.1" r="1.45" fill="rgba(240,30,0,0.55)"/><circle cx="119.4" cy="308.7" r="1.45" fill="rgba(240,30,0,0.55)"/><circle cx="113.4" cy="307.1" r="1.45" fill="rgba(240,30,0,0.55)"/><circle cx="121.3" cy="306.8" r="1.45" fill="rgba(240,30,0,0.55)"/><circle cx="127.6" cy="307.4" r="1.45" fill="rgba(240,30,0,0.55)"/><circle cx="114.8" cy="309.6" r="1.45" fill="rgba(240,30,0,0.55)"/><circle cx="123.6" cy="306.9" r="1.45" fill="rgba(240,30,0,0.55)"/><circle cx="115.8" cy="307.8" r="1.45" fill="rgba(240,30,0,0.55)"/><circle cx="123.1" cy="305.7" r="1.45" fill="rgba(240,30,0,0.55)"/><circle cx="125.2" cy="307.9" r="1.45" fill="rgba(240,30,0,0.55)"/><circle cx="109.6" cy="305.0" r="1.45" fill="rgba(240,30,0,0.55)"/><circle cx="112.9" cy="308.2" r="1.45" fill="rgba(240,30,0,0.55)"/><circle cx="123.7" cy="309.4" r="1.45" fill="rgba(240,30,0,0.55)"/><circle cx="122.6" cy="308.1" r="1.45" fill="rgba(240,30,0,0.55)"/><circle cx="124.6" cy="308.3" r="1.45" fill="rgba(240,30,0,0.55)"/><circle cx="113.4" cy="307.4" r="1.45" fill="rgba(240,30,0,0.55)"/><circle cx="126.1" cy="305.6" r="1.45" fill="rgba(240,30,0,0.55)"/><circle cx="109.4" cy="309.4" r="1.45" fill="rgba(240,30,0,0.55)"/><circle cx="123.6" cy="308.9" r="1.45" fill="rgba(240,30,0,0.55)"/><circle cx="126.6" cy="306.4" r="1.45" fill="rgba(240,30,0,0.55)"/><circle cx="115.5" cy="306.6" r="1.45" fill="rgba(240,30,0,0.55)"/><circle cx="118.4" cy="309.5" r="1.45" fill="rgba(240,30,0,0.55)"/><circle cx="109.8" cy="305.5" r="1.45" fill="rgba(240,30,0,0.55)"/><circle cx="111.2" cy="308.0" r="1.45" fill="rgba(240,30,0,0.55)"/><circle cx="129.7" cy="305.2" r="1.45" fill="rgba(240,30,0,0.55)"/><circle cx="117.4" cy="309.5" r="1.45" fill="rgba(240,30,0,0.55)"/><circle cx="131.1" cy="307.1" r="1.45" fill="rgba(240,30,0,0.55)"/><circle cx="110.9" cy="306.3" r="1.45" fill="rgba(240,30,0,0.55)"/><circle cx="112.0" cy="304.6" r="1.45" fill="rgba(240,30,0,0.55)"/><circle cx="124.3" cy="309.6" r="1.45" fill="rgba(240,30,0,0.55)"/><circle cx="110.5" cy="306.2" r="1.45" fill="rgba(240,30,0,0.55)"/><circle cx="108.9" cy="306.5" r="1.45" fill="rgba(240,30,0,0.55)"/><circle cx="125.4" cy="305.1" r="1.45" fill="rgba(240,30,0,0.55)"/><circle cx="126.3" cy="309.1" r="1.45" fill="rgba(240,30,0,0.55)"/><circle cx="125.3" cy="307.9" r="1.45" fill="rgba(240,30,0,0.55)"/><circle cx="124.8" cy="309.4" r="1.45" fill="rgba(240,30,0,0.55)"/><circle cx="114.4" cy="308.6" r="1.45" fill="rgba(240,30,0,0.55)"/><circle cx="108.8" cy="308.0" r="1.45" fill="rgba(240,30,0,0.55)"/><circle cx="127.3" cy="306.3" r="1.45" fill="rgba(240,30,0,0.55)"/><circle cx="125.3" cy="309.1" r="1.45" fill="rgba(240,30,0,0.55)"/><circle cx="119.7" cy="306.5" r="1.45" fill="rgba(240,30,0,0.55)"/><circle cx="121.8" cy="308.3" r="1.45" fill="rgba(240,30,0,0.55)"/><circle cx="111.8" cy="307.1" r="1.45" fill="rgba(240,30,0,0.55)"/><circle cx="123.4" cy="307.2" r="1.45" fill="rgba(240,30,0,0.55)"/><circle cx="117.4" cy="309.5" r="1.45" fill="rgba(240,30,0,0.55)"/><circle cx="126.6" cy="306.6" r="1.45" fill="rgba(240,30,0,0.55)"/><circle cx="109.9" cy="308.6" r="1.45" fill="rgba(240,30,0,0.55)"/><circle cx="127.6" cy="307.9" r="1.45" fill="rgba(240,30,0,0.55)"/><circle cx="131.0" cy="308.1" r="1.45" fill="rgba(240,30,0,0.55)"/><circle cx="115.6" cy="309.2" r="1.45" fill="rgba(240,30,0,0.55)"/><circle cx="117.2" cy="308.0" r="1.45" fill="rgba(240,30,0,0.55)"/><circle cx="129.2" cy="306.8" r="1.45" fill="rgba(240,30,0,0.55)"/><circle cx="108.5" cy="307.0" r="1.45" fill="rgba(240,30,0,0.55)"/><circle cx="122.0" cy="309.3" r="1.45" fill="rgba(240,30,0,0.55)"/><circle cx="109.5" cy="309.0" r="1.45" fill="rgba(240,30,0,0.55)"/><circle cx="128.5" cy="306.5" r="1.45" fill="rgba(240,30,0,0.55)"/><circle cx="128.1" cy="308.4" r="1.45" fill="rgba(240,30,0,0.55)"/><circle cx="129.6" cy="305.4" r="1.45" fill="rgba(240,30,0,0.55)"/><circle cx="121.3" cy="306.4" r="1.45" fill="rgba(240,30,0,0.55)"/><circle cx="125.8" cy="306.7" r="1.45" fill="rgba(240,30,0,0.55)"/><circle cx="122.5" cy="307.4" r="1.45" fill="rgba(240,30,0,0.55)"/><circle cx="113.3" cy="308.5" r="1.45" fill="rgba(240,30,0,0.55)"/><circle cx="126.7" cy="305.6" r="1.45" fill="rgba(240,30,0,0.55)"/><circle cx="127.1" cy="306.5" r="1.45" fill="rgba(240,30,0,0.55)"/><circle cx="121.9" cy="309.3" r="1.45" fill="rgba(240,30,0,0.55)"/><circle cx="120.5" cy="307.9" r="1.45" fill="rgba(240,30,0,0.55)"/><circle cx="112.9" cy="305.7" r="1.45" fill="rgba(240,30,0,0.55)"/><circle cx="124.7" cy="307.7" r="1.45" fill="rgba(240,30,0,0.55)"/><circle cx="117.8" cy="305.9" r="1.45" fill="rgba(240,30,0,0.55)"/><circle cx="109.5" cy="307.3" r="1.45" fill="rgba(240,30,0,0.55)"/><circle cx="110.9" cy="308.8" r="1.45" fill="rgba(240,30,0,0.55)"/><circle cx="112.1" cy="306.8" r="1.45" fill="rgba(240,30,0,0.55)"/><circle cx="120.5" cy="304.8" r="1.45" fill="rgba(240,30,0,0.55)"/><circle cx="131.3" cy="307.6" r="1.45" fill="rgba(240,30,0,0.55)"/><circle cx="121.6" cy="308.7" r="1.45" fill="rgba(240,30,0,0.55)"/><circle cx="118.3" cy="308.8" r="1.45" fill="rgba(240,30,0,0.55)"/><circle cx="127.4" cy="306.8" r="1.45" fill="rgba(240,30,0,0.55)"/><circle cx="109.4" cy="305.7" r="1.45" fill="rgba(240,30,0,0.55)"/><circle cx="110.4" cy="307.5" r="1.45" fill="rgba(240,30,0,0.55)"/><circle cx="128.6" cy="309.5" r="1.45" fill="rgba(240,30,0,0.55)"/><circle cx="129.5" cy="307.7" r="1.45" fill="rgba(240,30,0,0.55)"/><circle cx="117.7" cy="309.5" r="1.45" fill="rgba(240,30,0,0.55)"/><circle cx="114.4" cy="308.1" r="1.45" fill="rgba(240,30,0,0.55)"/><circle cx="130.5" cy="307.1" r="1.45" fill="rgba(240,30,0,0.55)"/><circle cx="118.8" cy="309.6" r="1.45" fill="rgba(240,30,0,0.55)"/><circle cx="131.4" cy="305.1" r="1.45" fill="rgba(240,30,0,0.55)"/><circle cx="114.4" cy="309.3" r="1.45" fill="rgba(240,30,0,0.55)"/><circle cx="129.4" cy="305.8" r="1.45" fill="rgba(240,30,0,0.55)"/><circle cx="126.6" cy="308.2" r="1.45" fill="rgba(240,30,0,0.55)"/><circle cx="131.2" cy="305.4" r="1.45" fill="rgba(240,30,0,0.55)"/><circle cx="125.9" cy="308.5" r="1.45" fill="rgba(240,30,0,0.55)"/><circle cx="115.4" cy="308.7" r="1.45" fill="rgba(240,30,0,0.55)"/><circle cx="110.9" cy="306.2" r="1.45" fill="rgba(240,30,0,0.55)"/><circle cx="111.4" cy="305.9" r="1.45" fill="rgba(240,30,0,0.55)"/><circle cx="114.0" cy="308.1" r="1.45" fill="rgba(240,30,0,0.55)"/><circle cx="108.8" cy="306.3" r="1.45" fill="rgba(240,30,0,0.55)"/><circle cx="109.3" cy="306.6" r="1.45" fill="rgba(240,30,0,0.55)"/><circle cx="130.0" cy="309.3" r="1.45" fill="rgba(240,30,0,0.55)"/><circle cx="111.7" cy="305.6" r="1.45" fill="rgba(240,30,0,0.55)"/><circle cx="129.9" cy="308.2" r="1.45" fill="rgba(240,30,0,0.55)"/><circle cx="118.9" cy="308.9" r="1.45" fill="rgba(240,30,0,0.55)"/><circle cx="119.5" cy="306.0" r="1.45" fill="rgba(240,30,0,0.55)"/><circle cx="113.6" cy="308.3" r="1.45" fill="rgba(240,30,0,0.55)"/><circle cx="121.3" cy="309.1" r="1.45" fill="rgba(240,30,0,0.55)"/><circle cx="114.6" cy="305.8" r="1.45" fill="rgba(240,30,0,0.55)"/><circle cx="114.7" cy="307.0" r="1.45" fill="rgba(240,30,0,0.55)"/><circle cx="112.4" cy="306.6" r="1.45" fill="rgba(240,30,0,0.55)"/><circle cx="129.3" cy="309.6" r="1.45" fill="rgba(240,30,0,0.55)"/><circle cx="109.8" cy="308.4" r="1.45" fill="rgba(240,30,0,0.55)"/><circle cx="113.4" cy="306.5" r="1.45" fill="rgba(240,30,0,0.55)"/><circle cx="114.4" cy="306.6" r="1.45" fill="rgba(240,30,0,0.55)"/><circle cx="131.3" cy="309.5" r="1.45" fill="rgba(240,30,0,0.55)"/><circle cx="110.7" cy="309.3" r="1.45" fill="rgba(240,30,0,0.55)"/><circle cx="109.8" cy="306.7" r="1.45" fill="rgba(240,30,0,0.55)"/><circle cx="131.1" cy="308.8" r="1.45" fill="rgba(240,30,0,0.55)"/><circle cx="116.4" cy="304.8" r="1.45" fill="rgba(240,30,0,0.55)"/><circle cx="127.7" cy="306.1" r="1.45" fill="rgba(240,30,0,0.55)"/><circle cx="118.5" cy="306.6" r="1.45" fill="rgba(240,30,0,0.55)"/><circle cx="121.7" cy="305.7" r="1.45" fill="rgba(240,30,0,0.55)"/><circle cx="126.3" cy="306.3" r="1.45" fill="rgba(240,30,0,0.55)"/><circle cx="110.3" cy="307.8" r="1.45" fill="rgba(240,30,0,0.55)"/><circle cx="119.9" cy="305.9" r="1.45" fill="rgba(240,30,0,0.55)"/><circle cx="122.6" cy="308.9" r="1.45" fill="rgba(240,30,0,0.55)"/><circle cx="121.9" cy="305.2" r="1.45" fill="rgba(240,30,0,0.55)"/><circle cx="125.4" cy="308.5" r="1.45" fill="rgba(240,30,0,0.55)"/><circle cx="109.8" cy="307.0" r="1.45" fill="rgba(240,30,0,0.55)"/><circle cx="127.9" cy="307.7" r="1.45" fill="rgba(240,30,0,0.55)"/><circle cx="108.9" cy="307.6" r="1.45" fill="rgba(240,30,0,0.55)"/><circle cx="128.6" cy="305.8" r="1.45" fill="rgba(240,30,0,0.55)"/><circle cx="127.7" cy="305.8" r="1.45" fill="rgba(240,30,0,0.55)"/><circle cx="117.1" cy="305.3" r="1.45" fill="rgba(240,30,0,0.55)"/><circle cx="120.5" cy="307.5" r="1.45" fill="rgba(240,30,0,0.55)"/><circle cx="111.3" cy="309.0" r="1.45" fill="rgba(240,30,0,0.55)"/><circle cx="128.4" cy="308.4" r="1.45" fill="rgba(240,30,0,0.55)"/><circle cx="117.3" cy="305.8" r="1.45" fill="rgba(240,30,0,0.55)"/><circle cx="128.6" cy="307.7" r="1.45" fill="rgba(240,30,0,0.55)"/><circle cx="120.3" cy="307.7" r="1.45" fill="rgba(240,30,0,0.55)"/><circle cx="109.0" cy="306.7" r="1.45" fill="rgba(240,30,0,0.55)"/><circle cx="112.7" cy="306.0" r="1.45" fill="rgba(240,30,0,0.55)"/><circle cx="127.3" cy="305.1" r="1.45" fill="rgba(240,30,0,0.55)"/><circle cx="124.6" cy="304.9" r="1.45" fill="rgba(240,30,0,0.55)"/><circle cx="122.3" cy="307.6" r="1.45" fill="rgba(240,30,0,0.55)"/><circle cx="124.7" cy="309.1" r="1.45" fill="rgba(240,30,0,0.55)"/><circle cx="125.0" cy="305.3" r="1.45" fill="rgba(240,30,0,0.55)"/><circle cx="119.9" cy="306.5" r="1.45" fill="rgba(240,30,0,0.55)"/><circle cx="111.3" cy="305.7" r="1.45" fill="rgba(240,30,0,0.55)"/><circle cx="122.1" cy="306.2" r="1.45" fill="rgba(240,30,0,0.55)"/><circle cx="121.7" cy="306.2" r="1.45" fill="rgba(240,30,0,0.55)"/><circle cx="127.5" cy="307.3" r="1.45" fill="rgba(240,30,0,0.55)"/><circle cx="118.2" cy="307.8" r="1.45" fill="rgba(240,30,0,0.55)"/><circle cx="117.6" cy="308.9" r="1.45" fill="rgba(240,30,0,0.55)"/><circle cx="116.3" cy="306.5" r="1.45" fill="rgba(240,30,0,0.55)"/><circle cx="118.5" cy="309.0" r="1.45" fill="rgba(240,30,0,0.55)"/><circle cx="129.5" cy="309.1" r="1.45" fill="rgba(240,30,0,0.55)"/><circle cx="109.7" cy="309.6" r="1.45" fill="rgba(240,30,0,0.55)"/><circle cx="130.0" cy="306.9" r="1.45" fill="rgba(240,30,0,0.55)"/><circle cx="123.1" cy="307.5" r="1.45" fill="rgba(240,30,0,0.55)"/><circle cx="110.1" cy="307.5" r="1.45" fill="rgba(240,30,0,0.55)"/><circle cx="109.0" cy="309.6" r="1.45" fill="rgba(240,30,0,0.55)"/><circle cx="126.4" cy="308.3" r="1.45" fill="rgba(240,30,0,0.55)"/><circle cx="127.2" cy="309.3" r="1.45" fill="rgba(240,30,0,0.55)"/><circle cx="109.3" cy="306.5" r="1.45" fill="rgba(240,30,0,0.55)"/><circle cx="124.1" cy="307.5" r="1.45" fill="rgba(240,30,0,0.55)"/><circle cx="129.8" cy="306.4" r="1.45" fill="rgba(240,30,0,0.55)"/><circle cx="120.5" cy="309.5" r="1.45" fill="rgba(240,30,0,0.55)"/><circle cx="115.1" cy="308.1" r="1.45" fill="rgba(240,30,0,0.55)"/><circle cx="111.3" cy="309.6" r="1.45" fill="rgba(240,30,0,0.55)"/><circle cx="120.3" cy="307.2" r="1.45" fill="rgba(240,30,0,0.55)"/><circle cx="120.8" cy="305.4" r="1.45" fill="rgba(240,30,0,0.55)"/><circle cx="111.5" cy="306.9" r="1.45" fill="rgba(240,30,0,0.55)"/><circle cx="115.1" cy="305.3" r="1.45" fill="rgba(240,30,0,0.55)"/><circle cx="121.1" cy="308.1" r="1.45" fill="rgba(240,30,0,0.55)"/><circle cx="121.6" cy="306.3" r="1.45" fill="rgba(240,30,0,0.55)"/><circle cx="124.9" cy="307.7" r="1.45" fill="rgba(240,30,0,0.55)"/><circle cx="122.6" cy="306.6" r="1.45" fill="rgba(240,30,0,0.55)"/><circle cx="114.1" cy="307.4" r="1.45" fill="rgba(240,30,0,0.55)"/><circle cx="117.3" cy="305.4" r="1.45" fill="rgba(240,30,0,0.55)"/><circle cx="116.6" cy="306.6" r="1.45" fill="rgba(240,30,0,0.55)"/><circle cx="121.3" cy="306.5" r="1.45" fill="rgba(240,30,0,0.55)"/><circle cx="131.3" cy="308.7" r="1.45" fill="rgba(240,30,0,0.55)"/><circle cx="112.2" cy="309.1" r="1.45" fill="rgba(240,30,0,0.55)"/><circle cx="118.6" cy="306.6" r="1.45" fill="rgba(240,30,0,0.55)"/><circle cx="118.6" cy="305.9" r="1.45" fill="rgba(240,30,0,0.55)"/><circle cx="113.7" cy="308.7" r="1.45" fill="rgba(240,30,0,0.55)"/><circle cx="112.1" cy="306.7" r="1.45" fill="rgba(240,30,0,0.55)"/><circle cx="124.1" cy="309.1" r="1.45" fill="rgba(240,30,0,0.55)"/><circle cx="127.4" cy="308.6" r="1.45" fill="rgba(240,30,0,0.55)"/><circle cx="125.6" cy="307.5" r="1.45" fill="rgba(240,30,0,0.55)"/><circle cx="126.6" cy="309.4" r="1.45" fill="rgba(240,30,0,0.55)"/><circle cx="111.4" cy="305.7" r="1.45" fill="rgba(240,30,0,0.55)"/><circle cx="126.1" cy="307.5" r="1.45" fill="rgba(240,30,0,0.55)"/><circle cx="130.7" cy="307.2" r="1.45" fill="rgba(240,30,0,0.55)"/><circle cx="126.6" cy="308.1" r="1.45" fill="rgba(240,30,0,0.55)"/><circle cx="117.2" cy="307.3" r="1.45" fill="rgba(240,30,0,0.55)"/><circle cx="125.2" cy="306.8" r="1.45" fill="rgba(240,30,0,0.55)"/><circle cx="121.3" cy="306.6" r="1.45" fill="rgba(240,30,0,0.55)"/><circle cx="126.6" cy="307.7" r="1.45" fill="rgba(240,30,0,0.55)"/><circle cx="118.7" cy="306.3" r="1.45" fill="rgba(240,30,0,0.55)"/><circle cx="111.8" cy="307.9" r="1.45" fill="rgba(240,30,0,0.55)"/><circle cx="110.5" cy="307.0" r="1.45" fill="rgba(240,30,0,0.55)"/><circle cx="127.9" cy="309.6" r="1.45" fill="rgba(240,30,0,0.55)"/><circle cx="113.2" cy="309.3" r="1.45" fill="rgba(240,30,0,0.55)"/><circle cx="108.7" cy="307.5" r="1.45" fill="rgba(240,30,0,0.55)"/><circle cx="120.0" cy="308.8" r="1.45" fill="rgba(240,30,0,0.55)"/><circle cx="120.9" cy="307.8" r="1.45" fill="rgba(240,30,0,0.55)"/><circle cx="120.4" cy="307.1" r="1.45" fill="rgba(240,30,0,0.55)"/><circle cx="116.7" cy="306.9" r="1.45" fill="rgba(240,30,0,0.55)"/><circle cx="130.3" cy="307.7" r="1.45" fill="rgba(240,30,0,0.55)"/><circle cx="110.8" cy="306.9" r="1.45" fill="rgba(240,30,0,0.55)"/><circle cx="121.4" cy="309.2" r="1.45" fill="rgba(240,30,0,0.55)"/><circle cx="130.7" cy="307.2" r="1.45" fill="rgba(240,30,0,0.55)"/><circle cx="122.9" cy="307.2" r="1.45" fill="rgba(240,30,0,0.55)"/><circle cx="120.7" cy="306.3" r="1.45" fill="rgba(240,30,0,0.55)"/><circle cx="115.8" cy="309.1" r="1.45" fill="rgba(240,30,0,0.55)"/><circle cx="120.3" cy="309.2" r="1.45" fill="rgba(240,30,0,0.55)"/><circle cx="124.4" cy="309.7" r="1.45" fill="rgba(240,30,0,0.55)"/><circle cx="129.0" cy="305.8" r="1.45" fill="rgba(240,30,0,0.55)"/><circle cx="115.2" cy="307.5" r="1.45" fill="rgba(240,30,0,0.55)"/><circle cx="112.8" cy="307.9" r="1.45" fill="rgba(240,30,0,0.55)"/><circle cx="122.4" cy="309.7" r="1.45" fill="rgba(240,30,0,0.55)"/><circle cx="123.2" cy="306.7" r="1.45" fill="rgba(240,30,0,0.55)"/><circle cx="126.7" cy="308.3" r="1.45" fill="rgba(240,30,0,0.55)"/><circle cx="108.6" cy="309.0" r="1.45" fill="rgba(240,30,0,0.55)"/><circle cx="122.0" cy="306.3" r="1.45" fill="rgba(240,30,0,0.55)"/><circle cx="120.0" cy="306.5" r="1.45" fill="rgba(240,30,0,0.55)"/><circle cx="123.4" cy="309.7" r="1.45" fill="rgba(240,30,0,0.55)"/><circle cx="121.7" cy="305.7" r="1.45" fill="rgba(240,30,0,0.55)"/><circle cx="112.1" cy="306.0" r="1.45" fill="rgba(240,30,0,0.55)"/><circle cx="110.8" cy="307.4" r="1.45" fill="rgba(240,30,0,0.55)"/><circle cx="127.5" cy="308.9" r="1.45" fill="rgba(240,30,0,0.55)"/><circle cx="109.9" cy="308.6" r="1.45" fill="rgba(240,30,0,0.55)"/><circle cx="115.9" cy="307.0" r="1.45" fill="rgba(240,30,0,0.55)"/><circle cx="112.4" cy="305.4" r="1.45" fill="rgba(240,30,0,0.55)"/><circle cx="129.3" cy="306.9" r="1.45" fill="rgba(240,30,0,0.55)"/><circle cx="118.9" cy="305.3" r="1.45" fill="rgba(240,30,0,0.55)"/><circle cx="129.0" cy="309.6" r="1.45" fill="rgba(240,30,0,0.55)"/><circle cx="118.6" cy="306.4" r="1.45" fill="rgba(240,30,0,0.55)"/><circle cx="109.5" cy="309.2" r="1.45" fill="rgba(240,30,0,0.55)"/><circle cx="115.8" cy="309.0" r="1.45" fill="rgba(240,30,0,0.55)"/><circle cx="115.5" cy="309.6" r="1.45" fill="rgba(240,30,0,0.55)"/><circle cx="119.9" cy="306.7" r="1.45" fill="rgba(240,30,0,0.55)"/><circle cx="117.5" cy="306.4" r="1.45" fill="rgba(240,30,0,0.55)"/><circle cx="115.6" cy="307.6" r="1.45" fill="rgba(240,30,0,0.55)"/><circle cx="126.8" cy="305.7" r="1.45" fill="rgba(240,30,0,0.55)"/><circle cx="116.8" cy="309.6" r="1.45" fill="rgba(240,30,0,0.55)"/><circle cx="115.2" cy="305.8" r="1.45" fill="rgba(240,30,0,0.55)"/><circle cx="120.8" cy="307.0" r="1.45" fill="rgba(240,30,0,0.55)"/><circle cx="110.0" cy="308.9" r="1.45" fill="rgba(240,30,0,0.55)"/><circle cx="116.6" cy="305.8" r="1.45" fill="rgba(240,30,0,0.55)"/><circle cx="115.0" cy="305.1" r="1.45" fill="rgba(240,30,0,0.55)"/><circle cx="123.8" cy="305.7" r="1.45" fill="rgba(240,30,0,0.55)"/><circle cx="124.8" cy="306.1" r="1.45" fill="rgba(240,30,0,0.55)"/><circle cx="127.7" cy="307.0" r="1.45" fill="rgba(240,30,0,0.55)"/><circle cx="127.8" cy="306.2" r="1.45" fill="rgba(240,30,0,0.55)"/><circle cx="116.6" cy="307.1" r="1.45" fill="rgba(240,30,0,0.55)"/><circle cx="130.6" cy="309.5" r="1.45" fill="rgba(240,30,0,0.55)"/><circle cx="120.1" cy="307.1" r="1.45" fill="rgba(240,30,0,0.55)"/><circle cx="111.5" cy="306.6" r="1.45" fill="rgba(240,30,0,0.55)"/><circle cx="129.2" cy="306.9" r="1.45" fill="rgba(240,30,0,0.55)"/><circle cx="114.2" cy="306.3" r="1.45" fill="rgba(240,30,0,0.55)"/><circle cx="128.6" cy="307.3" r="1.45" fill="rgba(240,30,0,0.55)"/><circle cx="121.0" cy="308.6" r="1.45" fill="rgba(240,30,0,0.55)"/><circle cx="117.4" cy="307.9" r="1.45" fill="rgba(240,30,0,0.55)"/><circle cx="115.7" cy="305.5" r="1.45" fill="rgba(240,30,0,0.55)"/><circle cx="112.6" cy="306.9" r="1.45" fill="rgba(240,30,0,0.55)"/><circle cx="123.8" cy="307.6" r="1.45" fill="rgba(240,30,0,0.55)"/><circle cx="108.9" cy="305.9" r="1.45" fill="rgba(240,30,0,0.55)"/><circle cx="108.8" cy="302.5" r="1.45" fill="rgba(240,30,0,0.55)"/><circle cx="108.8" cy="303.8" r="1.45" fill="rgba(240,30,0,0.55)"/><circle cx="108.5" cy="307.6" r="1.45" fill="rgba(240,30,0,0.55)"/><circle cx="108.7" cy="305.1" r="1.45" fill="rgba(240,30,0,0.55)"/><circle cx="109.8" cy="308.0" r="1.45" fill="rgba(240,30,0,0.55)"/><circle cx="109.8" cy="308.7" r="1.45" fill="rgba(240,30,0,0.55)"/><circle cx="108.5" cy="304.1" r="1.45" fill="rgba(240,30,0,0.55)"/><circle cx="108.3" cy="307.3" r="1.45" fill="rgba(240,30,0,0.55)"/><circle cx="109.4" cy="304.7" r="1.45" fill="rgba(240,30,0,0.55)"/><circle cx="109.0" cy="307.1" r="1.45" fill="rgba(240,30,0,0.55)"/><circle cx="109.5" cy="303.9" r="1.45" fill="rgba(240,30,0,0.55)"/><circle cx="109.7" cy="304.7" r="1.45" fill="rgba(240,30,0,0.55)"/><circle cx="109.4" cy="303.4" r="1.45" fill="rgba(240,30,0,0.55)"/><circle cx="108.5" cy="309.1" r="1.45" fill="rgba(240,30,0,0.55)"/><circle cx="109.5" cy="307.5" r="1.45" fill="rgba(240,30,0,0.55)"/><circle cx="108.3" cy="302.3" r="1.45" fill="rgba(240,30,0,0.55)"/><circle cx="108.5" cy="303.5" r="1.45" fill="rgba(240,30,0,0.55)"/><circle cx="108.8" cy="305.0" r="1.45" fill="rgba(240,30,0,0.55)"/><circle cx="108.3" cy="304.4" r="1.45" fill="rgba(240,30,0,0.55)"/><circle cx="109.4" cy="303.4" r="1.45" fill="rgba(240,30,0,0.55)"/><circle cx="109.7" cy="306.4" r="1.45" fill="rgba(240,30,0,0.55)"/><circle cx="109.5" cy="304.0" r="1.45" fill="rgba(240,30,0,0.55)"/><circle cx="109.0" cy="307.3" r="1.45" fill="rgba(240,30,0,0.55)"/><circle cx="108.9" cy="302.0" r="1.45" fill="rgba(240,30,0,0.55)"/><circle cx="109.7" cy="308.0" r="1.45" fill="rgba(240,30,0,0.55)"/><circle cx="108.8" cy="302.3" r="1.45" fill="rgba(240,30,0,0.55)"/><circle cx="109.7" cy="306.7" r="1.45" fill="rgba(240,30,0,0.55)"/><circle cx="108.3" cy="303.9" r="1.45" fill="rgba(240,30,0,0.55)"/><circle cx="108.4" cy="308.1" r="1.45" fill="rgba(240,30,0,0.55)"/><circle cx="113.2" cy="299.0" r="1.45" fill="rgba(240,30,0,0.55)"/><circle cx="126.1" cy="304.3" r="1.45" fill="rgba(240,30,0,0.55)"/><circle cx="124.7" cy="302.2" r="1.45" fill="rgba(240,30,0,0.55)"/><circle cx="126.0" cy="299.5" r="1.45" fill="rgba(240,30,0,0.55)"/><circle cx="114.9" cy="304.3" r="1.45" fill="rgba(240,30,0,0.55)"/><circle cx="130.7" cy="302.0" r="1.45" fill="rgba(240,30,0,0.55)"/><circle cx="130.3" cy="300.3" r="1.45" fill="rgba(240,30,0,0.55)"/><circle cx="125.8" cy="299.5" r="1.45" fill="rgba(240,30,0,0.55)"/><circle cx="123.2" cy="301.8" r="1.45" fill="rgba(240,30,0,0.55)"/><circle cx="109.5" cy="300.3" r="1.45" fill="rgba(240,30,0,0.55)"/><circle cx="118.4" cy="301.4" r="1.45" fill="rgba(240,30,0,0.55)"/><circle cx="130.3" cy="304.0" r="1.45" fill="rgba(240,30,0,0.55)"/><circle cx="126.3" cy="304.6" r="1.45" fill="rgba(240,30,0,0.55)"/><circle cx="124.9" cy="299.6" r="1.45" fill="rgba(240,30,0,0.55)"/><circle cx="114.5" cy="301.2" r="1.45" fill="rgba(240,30,0,0.55)"/><circle cx="131.3" cy="300.7" r="1.45" fill="rgba(240,30,0,0.55)"/><circle cx="121.2" cy="303.1" r="1.45" fill="rgba(240,30,0,0.55)"/><circle cx="109.7" cy="302.4" r="1.45" fill="rgba(240,30,0,0.55)"/><circle cx="118.0" cy="303.5" r="1.45" fill="rgba(240,30,0,0.55)"/><circle cx="115.6" cy="303.9" r="1.45" fill="rgba(240,30,0,0.55)"/><circle cx="125.0" cy="300.5" r="1.45" fill="rgba(240,30,0,0.55)"/><circle cx="113.9" cy="303.2" r="1.45" fill="rgba(240,30,0,0.55)"/><circle cx="120.5" cy="301.9" r="1.45" fill="rgba(240,30,0,0.55)"/><circle cx="130.5" cy="302.5" r="1.45" fill="rgba(240,30,0,0.55)"/><circle cx="115.4" cy="299.2" r="1.45" fill="rgba(240,30,0,0.55)"/><circle cx="111.6" cy="301.1" r="1.45" fill="rgba(240,30,0,0.55)"/><circle cx="116.2" cy="299.6" r="1.45" fill="rgba(240,30,0,0.55)"/><circle cx="121.3" cy="299.9" r="1.45" fill="rgba(240,30,0,0.55)"/><circle cx="112.3" cy="300.5" r="1.45" fill="rgba(240,30,0,0.55)"/><circle cx="122.5" cy="301.8" r="1.45" fill="rgba(240,30,0,0.55)"/><circle cx="126.4" cy="299.5" r="1.45" fill="rgba(240,30,0,0.55)"/><circle cx="111.0" cy="302.9" r="1.45" fill="rgba(240,30,0,0.55)"/><circle cx="116.8" cy="303.4" r="1.45" fill="rgba(240,30,0,0.55)"/><circle cx="109.7" cy="302.9" r="1.45" fill="rgba(240,30,0,0.55)"/><circle cx="112.9" cy="300.3" r="1.45" fill="rgba(240,30,0,0.55)"/><circle cx="118.9" cy="304.1" r="1.45" fill="rgba(240,30,0,0.55)"/><circle cx="116.0" cy="301.7" r="1.45" fill="rgba(240,30,0,0.55)"/><circle cx="116.9" cy="303.7" r="1.45" fill="rgba(240,30,0,0.55)"/><circle cx="110.0" cy="304.9" r="1.45" fill="rgba(240,30,0,0.55)"/><circle cx="131.8" cy="300.0" r="1.45" fill="rgba(240,30,0,0.55)"/><circle cx="110.2" cy="300.2" r="1.45" fill="rgba(240,30,0,0.55)"/><circle cx="131.5" cy="301.1" r="1.45" fill="rgba(240,30,0,0.55)"/><circle cx="110.8" cy="301.6" r="1.45" fill="rgba(240,30,0,0.55)"/><circle cx="118.6" cy="303.5" r="1.45" fill="rgba(240,30,0,0.55)"/><circle cx="121.1" cy="304.9" r="1.45" fill="rgba(240,30,0,0.55)"/><circle cx="160.3" cy="308.4" r="1.45" fill="rgba(240,30,0,0.55)"/><circle cx="154.5" cy="309.4" r="1.45" fill="rgba(240,30,0,0.55)"/><circle cx="155.0" cy="306.2" r="1.45" fill="rgba(240,30,0,0.55)"/><circle cx="146.8" cy="304.5" r="1.45" fill="rgba(240,30,0,0.55)"/><circle cx="142.4" cy="308.2" r="1.45" fill="rgba(240,30,0,0.55)"/><circle cx="158.7" cy="306.9" r="1.45" fill="rgba(240,30,0,0.55)"/><circle cx="145.6" cy="307.5" r="1.45" fill="rgba(240,30,0,0.55)"/><circle cx="158.8" cy="309.5" r="1.45" fill="rgba(240,30,0,0.55)"/><circle cx="145.2" cy="308.4" r="1.45" fill="rgba(240,30,0,0.55)"/><circle cx="158.5" cy="308.7" r="1.45" fill="rgba(240,30,0,0.55)"/><circle cx="148.4" cy="305.0" r="1.45" fill="rgba(240,30,0,0.55)"/><circle cx="158.4" cy="307.0" r="1.45" fill="rgba(240,30,0,0.55)"/><circle cx="149.3" cy="307.2" r="1.45" fill="rgba(240,30,0,0.55)"/><circle cx="149.3" cy="308.8" r="1.45" fill="rgba(240,30,0,0.55)"/><circle cx="146.7" cy="303.8" r="1.45" fill="rgba(240,30,0,0.55)"/><circle cx="153.2" cy="307.9" r="1.45" fill="rgba(240,30,0,0.55)"/><circle cx="158.3" cy="308.5" r="1.45" fill="rgba(240,30,0,0.55)"/><circle cx="160.0" cy="309.5" r="1.45" fill="rgba(240,30,0,0.55)"/><circle cx="151.8" cy="307.1" r="1.45" fill="rgba(240,30,0,0.55)"/><circle cx="145.0" cy="305.2" r="1.45" fill="rgba(240,30,0,0.55)"/><circle cx="153.5" cy="305.2" r="1.45" fill="rgba(240,30,0,0.55)"/><circle cx="155.7" cy="305.9" r="1.45" fill="rgba(240,30,0,0.55)"/><circle cx="150.8" cy="309.6" r="1.45" fill="rgba(240,30,0,0.55)"/><circle cx="143.7" cy="303.3" r="1.45" fill="rgba(240,30,0,0.55)"/><circle cx="150.7" cy="305.3" r="1.45" fill="rgba(240,30,0,0.55)"/><circle cx="156.4" cy="305.3" r="1.45" fill="rgba(240,30,0,0.55)"/><circle cx="158.7" cy="309.2" r="1.45" fill="rgba(240,30,0,0.55)"/><circle cx="157.6" cy="307.3" r="1.45" fill="rgba(240,30,0,0.55)"/><circle cx="147.5" cy="307.7" r="1.45" fill="rgba(240,30,0,0.55)"/><circle cx="152.2" cy="306.7" r="1.45" fill="rgba(240,30,0,0.55)"/><circle cx="148.7" cy="306.5" r="1.45" fill="rgba(240,30,0,0.55)"/><circle cx="155.2" cy="308.9" r="1.45" fill="rgba(240,30,0,0.55)"/><circle cx="160.0" cy="306.5" r="1.45" fill="rgba(240,30,0,0.55)"/><circle cx="147.8" cy="306.4" r="1.45" fill="rgba(240,30,0,0.55)"/><circle cx="153.2" cy="306.5" r="1.45" fill="rgba(240,30,0,0.55)"/><circle cx="145.8" cy="304.0" r="1.45" fill="rgba(240,30,0,0.55)"/><circle cx="148.4" cy="306.6" r="1.45" fill="rgba(240,30,0,0.55)"/><circle cx="161.3" cy="309.4" r="1.45" fill="rgba(240,30,0,0.55)"/><circle cx="159.2" cy="309.6" r="1.45" fill="rgba(240,30,0,0.55)"/><circle cx="161.2" cy="308.4" r="1.45" fill="rgba(240,30,0,0.55)"/><circle cx="158.1" cy="305.8" r="1.45" fill="rgba(240,30,0,0.55)"/><circle cx="155.4" cy="307.9" r="1.45" fill="rgba(240,30,0,0.55)"/><circle cx="147.8" cy="307.2" r="1.45" fill="rgba(240,30,0,0.55)"/><circle cx="161.0" cy="307.8" r="1.45" fill="rgba(240,30,0,0.55)"/><circle cx="154.8" cy="306.4" r="1.45" fill="rgba(240,30,0,0.55)"/><circle cx="148.8" cy="309.1" r="1.45" fill="rgba(240,30,0,0.55)"/><circle cx="142.4" cy="304.2" r="1.45" fill="rgba(240,30,0,0.55)"/><circle cx="155.5" cy="307.2" r="1.45" fill="rgba(240,30,0,0.55)"/><circle cx="143.6" cy="307.5" r="1.45" fill="rgba(240,30,0,0.55)"/><circle cx="149.3" cy="307.4" r="1.45" fill="rgba(240,30,0,0.55)"/><circle cx="150.2" cy="307.1" r="1.45" fill="rgba(240,30,0,0.55)"/><circle cx="153.2" cy="306.7" r="1.45" fill="rgba(240,30,0,0.55)"/><circle cx="144.2" cy="304.3" r="1.45" fill="rgba(240,30,0,0.55)"/><circle cx="159.7" cy="308.0" r="1.45" fill="rgba(240,30,0,0.55)"/><circle cx="144.1" cy="308.8" r="1.45" fill="rgba(240,30,0,0.55)"/><circle cx="147.0" cy="304.2" r="1.45" fill="rgba(240,30,0,0.55)"/><circle cx="152.5" cy="305.9" r="1.45" fill="rgba(240,30,0,0.55)"/><circle cx="151.7" cy="307.4" r="1.45" fill="rgba(240,30,0,0.55)"/><circle cx="146.4" cy="307.1" r="1.45" fill="rgba(240,30,0,0.55)"/><circle cx="144.1" cy="306.5" r="1.45" fill="rgba(240,30,0,0.55)"/><circle cx="153.7" cy="305.2" r="1.45" fill="rgba(240,30,0,0.55)"/><circle cx="150.1" cy="304.6" r="1.45" fill="rgba(240,30,0,0.55)"/><circle cx="150.7" cy="309.0" r="1.45" fill="rgba(240,30,0,0.55)"/><circle cx="152.9" cy="308.3" r="1.45" fill="rgba(240,30,0,0.55)"/><circle cx="157.0" cy="305.9" r="1.45" fill="rgba(240,30,0,0.55)"/><circle cx="161.7" cy="308.8" r="1.45" fill="rgba(240,30,0,0.55)"/><circle cx="143.9" cy="308.6" r="1.45" fill="rgba(240,30,0,0.55)"/><circle cx="149.7" cy="305.1" r="1.45" fill="rgba(240,30,0,0.55)"/><circle cx="161.1" cy="308.2" r="1.45" fill="rgba(240,30,0,0.55)"/><circle cx="157.4" cy="306.0" r="1.45" fill="rgba(240,30,0,0.55)"/><circle cx="157.4" cy="305.7" r="1.45" fill="rgba(240,30,0,0.55)"/><circle cx="146.6" cy="305.9" r="1.45" fill="rgba(240,30,0,0.55)"/><circle cx="142.2" cy="306.9" r="1.45" fill="rgba(240,30,0,0.55)"/><circle cx="146.1" cy="305.4" r="1.45" fill="rgba(240,30,0,0.55)"/><circle cx="156.1" cy="307.2" r="1.45" fill="rgba(240,30,0,0.55)"/><circle cx="159.7" cy="308.3" r="1.45" fill="rgba(240,30,0,0.55)"/><circle cx="159.4" cy="308.0" r="1.45" fill="rgba(240,30,0,0.55)"/><circle cx="160.3" cy="309.3" r="1.45" fill="rgba(240,30,0,0.55)"/><circle cx="145.2" cy="308.1" r="1.45" fill="rgba(240,30,0,0.55)"/><circle cx="148.7" cy="308.4" r="1.45" fill="rgba(240,30,0,0.55)"/><circle cx="155.5" cy="308.9" r="1.45" fill="rgba(240,30,0,0.55)"/><circle cx="144.3" cy="305.6" r="1.45" fill="rgba(240,30,0,0.55)"/><circle cx="156.7" cy="309.5" r="1.45" fill="rgba(240,30,0,0.55)"/><circle cx="156.3" cy="305.5" r="1.45" fill="rgba(240,30,0,0.55)"/><circle cx="154.0" cy="305.4" r="1.45" fill="rgba(240,30,0,0.55)"/><circle cx="152.9" cy="308.7" r="1.45" fill="rgba(240,30,0,0.55)"/><circle cx="144.1" cy="309.3" r="1.45" fill="rgba(240,30,0,0.55)"/><circle cx="155.4" cy="306.3" r="1.45" fill="rgba(240,30,0,0.55)"/><circle cx="145.7" cy="306.3" r="1.45" fill="rgba(240,30,0,0.55)"/><circle cx="158.7" cy="308.0" r="1.45" fill="rgba(240,30,0,0.55)"/><circle cx="144.1" cy="303.3" r="1.45" fill="rgba(240,30,0,0.55)"/><circle cx="144.1" cy="308.4" r="1.45" fill="rgba(240,30,0,0.55)"/><circle cx="145.6" cy="306.9" r="1.45" fill="rgba(240,30,0,0.55)"/><circle cx="147.7" cy="307.9" r="1.45" fill="rgba(240,30,0,0.55)"/><circle cx="149.5" cy="304.9" r="1.45" fill="rgba(240,30,0,0.55)"/><circle cx="159.4" cy="307.9" r="1.45" fill="rgba(240,30,0,0.55)"/><circle cx="155.7" cy="308.9" r="1.45" fill="rgba(240,30,0,0.55)"/><circle cx="160.9" cy="306.1" r="1.45" fill="rgba(240,30,0,0.55)"/><circle cx="148.7" cy="304.8" r="1.45" fill="rgba(240,30,0,0.55)"/><circle cx="151.9" cy="309.1" r="1.45" fill="rgba(240,30,0,0.55)"/><circle cx="157.9" cy="305.7" r="1.45" fill="rgba(240,30,0,0.55)"/><circle cx="145.5" cy="308.6" r="1.45" fill="rgba(240,30,0,0.55)"/><circle cx="155.5" cy="306.9" r="1.45" fill="rgba(240,30,0,0.55)"/><circle cx="151.4" cy="305.3" r="1.45" fill="rgba(240,30,0,0.55)"/><circle cx="158.8" cy="307.3" r="1.45" fill="rgba(240,30,0,0.55)"/><circle cx="159.4" cy="308.2" r="1.45" fill="rgba(240,30,0,0.55)"/><circle cx="143.4" cy="305.2" r="1.45" fill="rgba(240,30,0,0.55)"/><circle cx="146.2" cy="309.1" r="1.45" fill="rgba(240,30,0,0.55)"/><circle cx="153.7" cy="305.0" r="1.45" fill="rgba(240,30,0,0.55)"/><circle cx="145.3" cy="305.7" r="1.45" fill="rgba(240,30,0,0.55)"/><circle cx="151.2" cy="307.5" r="1.45" fill="rgba(240,30,0,0.55)"/><circle cx="149.6" cy="306.1" r="1.45" fill="rgba(240,30,0,0.55)"/><circle cx="142.0" cy="306.8" r="1.45" fill="rgba(240,30,0,0.55)"/><circle cx="148.6" cy="304.0" r="1.45" fill="rgba(240,30,0,0.55)"/><circle cx="151.1" cy="309.7" r="1.45" fill="rgba(240,30,0,0.55)"/><circle cx="142.8" cy="303.9" r="1.45" fill="rgba(240,30,0,0.55)"/><circle cx="155.3" cy="306.4" r="1.45" fill="rgba(240,30,0,0.55)"/><circle cx="147.4" cy="306.7" r="1.45" fill="rgba(240,30,0,0.55)"/><circle cx="147.1" cy="307.1" r="1.45" fill="rgba(240,30,0,0.55)"/><circle cx="152.5" cy="309.5" r="1.45" fill="rgba(240,30,0,0.55)"/><circle cx="161.8" cy="306.3" r="1.45" fill="rgba(240,30,0,0.55)"/><circle cx="153.1" cy="308.6" r="1.45" fill="rgba(240,30,0,0.55)"/><circle cx="159.4" cy="308.9" r="1.45" fill="rgba(240,30,0,0.55)"/><circle cx="154.6" cy="308.0" r="1.45" fill="rgba(240,30,0,0.55)"/><circle cx="149.1" cy="305.6" r="1.45" fill="rgba(240,30,0,0.55)"/><circle cx="157.8" cy="309.2" r="1.45" fill="rgba(240,30,0,0.55)"/><circle cx="160.7" cy="308.6" r="1.45" fill="rgba(240,30,0,0.55)"/><circle cx="148.0" cy="308.3" r="1.45" fill="rgba(240,30,0,0.55)"/><circle cx="156.7" cy="307.6" r="1.45" fill="rgba(240,30,0,0.55)"/><circle cx="154.6" cy="306.6" r="1.45" fill="rgba(240,30,0,0.55)"/><circle cx="152.9" cy="306.7" r="1.45" fill="rgba(240,30,0,0.55)"/><circle cx="143.1" cy="305.3" r="1.45" fill="rgba(240,30,0,0.55)"/><circle cx="148.4" cy="309.7" r="1.45" fill="rgba(240,30,0,0.55)"/><circle cx="151.5" cy="306.4" r="1.45" fill="rgba(240,30,0,0.55)"/><circle cx="146.8" cy="305.0" r="1.45" fill="rgba(240,30,0,0.55)"/><circle cx="148.9" cy="304.8" r="1.45" fill="rgba(240,30,0,0.55)"/><circle cx="142.0" cy="308.9" r="1.45" fill="rgba(240,30,0,0.55)"/><circle cx="151.0" cy="306.7" r="1.45" fill="rgba(240,30,0,0.55)"/><circle cx="153.3" cy="306.3" r="1.45" fill="rgba(240,30,0,0.55)"/><circle cx="145.3" cy="303.8" r="1.45" fill="rgba(240,30,0,0.55)"/><circle cx="147.9" cy="305.6" r="1.45" fill="rgba(240,30,0,0.55)"/><circle cx="156.4" cy="307.8" r="1.45" fill="rgba(240,30,0,0.55)"/><circle cx="160.7" cy="307.3" r="1.45" fill="rgba(240,30,0,0.55)"/><circle cx="160.3" cy="308.2" r="1.45" fill="rgba(240,30,0,0.55)"/><circle cx="143.5" cy="304.2" r="1.45" fill="rgba(240,30,0,0.55)"/><circle cx="153.5" cy="309.7" r="1.45" fill="rgba(240,30,0,0.55)"/><circle cx="149.0" cy="308.5" r="1.45" fill="rgba(240,30,0,0.55)"/><circle cx="150.5" cy="309.0" r="1.45" fill="rgba(240,30,0,0.55)"/><circle cx="143.2" cy="306.3" r="1.45" fill="rgba(240,30,0,0.55)"/><circle cx="159.9" cy="307.0" r="1.45" fill="rgba(240,30,0,0.55)"/><circle cx="147.0" cy="303.8" r="1.45" fill="rgba(240,30,0,0.55)"/><circle cx="145.2" cy="305.0" r="1.45" fill="rgba(240,30,0,0.55)"/><circle cx="156.0" cy="306.2" r="1.45" fill="rgba(240,30,0,0.55)"/><circle cx="149.9" cy="305.3" r="1.45" fill="rgba(240,30,0,0.55)"/><circle cx="154.0" cy="309.1" r="1.45" fill="rgba(240,30,0,0.55)"/><circle cx="154.9" cy="305.9" r="1.45" fill="rgba(240,30,0,0.55)"/><circle cx="156.6" cy="309.6" r="1.45" fill="rgba(240,30,0,0.55)"/><circle cx="153.9" cy="305.2" r="1.45" fill="rgba(240,30,0,0.55)"/><circle cx="158.1" cy="309.2" r="1.45" fill="rgba(240,30,0,0.55)"/><circle cx="148.7" cy="304.7" r="1.45" fill="rgba(240,30,0,0.55)"/><circle cx="145.6" cy="306.8" r="1.45" fill="rgba(240,30,0,0.55)"/><circle cx="159.4" cy="308.3" r="1.45" fill="rgba(240,30,0,0.55)"/><circle cx="160.4" cy="306.8" r="1.45" fill="rgba(240,30,0,0.55)"/><circle cx="148.4" cy="308.3" r="1.45" fill="rgba(240,30,0,0.55)"/><circle cx="154.9" cy="306.9" r="1.45" fill="rgba(240,30,0,0.55)"/><circle cx="155.5" cy="306.7" r="1.45" fill="rgba(240,30,0,0.55)"/><circle cx="143.0" cy="305.8" r="1.45" fill="rgba(240,30,0,0.55)"/><circle cx="142.8" cy="307.2" r="1.45" fill="rgba(240,30,0,0.55)"/><circle cx="148.6" cy="306.8" r="1.45" fill="rgba(240,30,0,0.55)"/><circle cx="153.9" cy="306.1" r="1.45" fill="rgba(240,30,0,0.55)"/><circle cx="151.2" cy="304.4" r="1.45" fill="rgba(240,30,0,0.55)"/><circle cx="160.4" cy="308.1" r="1.45" fill="rgba(240,30,0,0.55)"/><circle cx="161.7" cy="306.4" r="1.45" fill="rgba(240,30,0,0.55)"/><circle cx="154.2" cy="308.4" r="1.45" fill="rgba(240,30,0,0.55)"/><circle cx="148.5" cy="304.4" r="1.45" fill="rgba(240,30,0,0.55)"/><circle cx="145.0" cy="304.2" r="1.45" fill="rgba(240,30,0,0.55)"/><circle cx="157.3" cy="305.8" r="1.45" fill="rgba(240,30,0,0.55)"/><circle cx="158.2" cy="307.4" r="1.45" fill="rgba(240,30,0,0.55)"/><circle cx="152.7" cy="307.6" r="1.45" fill="rgba(240,30,0,0.55)"/><circle cx="153.0" cy="308.0" r="1.45" fill="rgba(240,30,0,0.55)"/><circle cx="153.9" cy="306.5" r="1.45" fill="rgba(240,30,0,0.55)"/><circle cx="156.7" cy="306.5" r="1.45" fill="rgba(240,30,0,0.55)"/><circle cx="156.1" cy="308.7" r="1.45" fill="rgba(240,30,0,0.55)"/><circle cx="157.4" cy="306.8" r="1.45" fill="rgba(240,30,0,0.55)"/><circle cx="157.4" cy="309.7" r="1.45" fill="rgba(240,30,0,0.55)"/><circle cx="151.0" cy="305.8" r="1.45" fill="rgba(240,30,0,0.55)"/><circle cx="152.4" cy="309.4" r="1.45" fill="rgba(240,30,0,0.55)"/><circle cx="144.5" cy="303.3" r="1.45" fill="rgba(240,30,0,0.55)"/><circle cx="151.4" cy="307.9" r="1.45" fill="rgba(240,30,0,0.55)"/><circle cx="157.4" cy="307.0" r="1.45" fill="rgba(240,30,0,0.55)"/><circle cx="161.7" cy="307.0" r="1.45" fill="rgba(240,30,0,0.55)"/><circle cx="157.0" cy="305.8" r="1.45" fill="rgba(240,30,0,0.55)"/><circle cx="142.4" cy="303.8" r="1.45" fill="rgba(240,30,0,0.55)"/><circle cx="143.1" cy="306.4" r="1.45" fill="rgba(240,30,0,0.55)"/><circle cx="153.0" cy="305.6" r="1.45" fill="rgba(240,30,0,0.55)"/><circle cx="160.7" cy="307.4" r="1.45" fill="rgba(240,30,0,0.55)"/><circle cx="144.9" cy="304.4" r="1.45" fill="rgba(240,30,0,0.55)"/><circle cx="156.7" cy="309.4" r="1.45" fill="rgba(240,30,0,0.55)"/><circle cx="145.1" cy="303.5" r="1.45" fill="rgba(240,30,0,0.55)"/><circle cx="157.5" cy="306.5" r="1.45" fill="rgba(240,30,0,0.55)"/><circle cx="161.6" cy="308.0" r="1.45" fill="rgba(240,30,0,0.55)"/><circle cx="154.6" cy="306.6" r="1.45" fill="rgba(240,30,0,0.55)"/><circle cx="157.9" cy="307.5" r="1.45" fill="rgba(240,30,0,0.55)"/><circle cx="148.4" cy="309.2" r="1.45" fill="rgba(240,30,0,0.55)"/><circle cx="144.0" cy="308.0" r="1.45" fill="rgba(240,30,0,0.55)"/><circle cx="143.2" cy="307.3" r="1.45" fill="rgba(240,30,0,0.55)"/><circle cx="149.9" cy="309.0" r="1.45" fill="rgba(240,30,0,0.55)"/><circle cx="143.1" cy="306.8" r="1.45" fill="rgba(240,30,0,0.55)"/><circle cx="150.1" cy="309.3" r="1.45" fill="rgba(240,30,0,0.55)"/><circle cx="160.8" cy="308.4" r="1.45" fill="rgba(240,30,0,0.55)"/><circle cx="146.4" cy="305.1" r="1.45" fill="rgba(240,30,0,0.55)"/><circle cx="147.1" cy="306.3" r="1.45" fill="rgba(240,30,0,0.55)"/><circle cx="146.5" cy="304.8" r="1.45" fill="rgba(240,30,0,0.55)"/><circle cx="157.1" cy="308.2" r="1.45" fill="rgba(240,30,0,0.55)"/><circle cx="147.9" cy="309.7" r="1.45" fill="rgba(240,30,0,0.55)"/><circle cx="146.2" cy="307.1" r="1.45" fill="rgba(240,30,0,0.55)"/><circle cx="145.0" cy="308.9" r="1.45" fill="rgba(240,30,0,0.55)"/><circle cx="159.3" cy="306.9" r="1.45" fill="rgba(240,30,0,0.55)"/><circle cx="156.9" cy="309.0" r="1.45" fill="rgba(240,30,0,0.55)"/><circle cx="147.5" cy="305.7" r="1.45" fill="rgba(240,30,0,0.55)"/><circle cx="151.6" cy="309.2" r="1.45" fill="rgba(240,30,0,0.55)"/><circle cx="145.1" cy="307.7" r="1.45" fill="rgba(240,30,0,0.55)"/><circle cx="153.9" cy="307.1" r="1.45" fill="rgba(240,30,0,0.55)"/><circle cx="153.5" cy="309.2" r="1.45" fill="rgba(240,30,0,0.55)"/><circle cx="146.1" cy="309.0" r="1.45" fill="rgba(240,30,0,0.55)"/><circle cx="149.1" cy="308.5" r="1.45" fill="rgba(240,30,0,0.55)"/><circle cx="159.2" cy="306.5" r="1.45" fill="rgba(240,30,0,0.55)"/><circle cx="159.2" cy="309.7" r="1.45" fill="rgba(240,30,0,0.55)"/><circle cx="147.8" cy="303.9" r="1.45" fill="rgba(240,30,0,0.55)"/><circle cx="144.1" cy="309.6" r="1.45" fill="rgba(240,30,0,0.55)"/><circle cx="142.1" cy="309.1" r="1.45" fill="rgba(240,30,0,0.55)"/><circle cx="144.9" cy="308.0" r="1.45" fill="rgba(240,30,0,0.55)"/><circle cx="143.8" cy="304.2" r="1.45" fill="rgba(240,30,0,0.55)"/><circle cx="155.6" cy="305.6" r="1.45" fill="rgba(240,30,0,0.55)"/><circle cx="148.7" cy="309.3" r="1.45" fill="rgba(240,30,0,0.55)"/><circle cx="156.2" cy="309.2" r="1.45" fill="rgba(240,30,0,0.55)"/><circle cx="161.5" cy="306.3" r="1.45" fill="rgba(240,30,0,0.55)"/><circle cx="146.6" cy="308.5" r="1.45" fill="rgba(240,30,0,0.55)"/><circle cx="155.7" cy="305.3" r="1.45" fill="rgba(240,30,0,0.55)"/><circle cx="152.0" cy="305.7" r="1.45" fill="rgba(240,30,0,0.55)"/><circle cx="150.5" cy="304.8" r="1.45" fill="rgba(240,30,0,0.55)"/><circle cx="142.3" cy="309.7" r="1.45" fill="rgba(240,30,0,0.55)"/><circle cx="148.2" cy="309.0" r="1.45" fill="rgba(240,30,0,0.55)"/><circle cx="144.3" cy="306.4" r="1.45" fill="rgba(240,30,0,0.55)"/><circle cx="144.6" cy="306.0" r="1.45" fill="rgba(240,30,0,0.55)"/><circle cx="145.5" cy="307.7" r="1.45" fill="rgba(240,30,0,0.55)"/><circle cx="144.8" cy="308.1" r="1.45" fill="rgba(240,30,0,0.55)"/><circle cx="151.9" cy="305.1" r="1.45" fill="rgba(240,30,0,0.55)"/><circle cx="149.0" cy="306.8" r="1.45" fill="rgba(240,30,0,0.55)"/><circle cx="160.3" cy="307.3" r="1.45" fill="rgba(240,30,0,0.55)"/><circle cx="146.2" cy="309.5" r="1.45" fill="rgba(240,30,0,0.55)"/><circle cx="159.6" cy="308.7" r="1.45" fill="rgba(240,30,0,0.55)"/><circle cx="147.3" cy="304.8" r="1.45" fill="rgba(240,30,0,0.55)"/><circle cx="147.2" cy="304.1" r="1.45" fill="rgba(240,30,0,0.55)"/><circle cx="142.7" cy="306.4" r="1.45" fill="rgba(240,30,0,0.55)"/><circle cx="150.1" cy="307.3" r="1.45" fill="rgba(240,30,0,0.55)"/><circle cx="149.1" cy="304.1" r="1.45" fill="rgba(240,30,0,0.55)"/><circle cx="155.7" cy="308.2" r="1.45" fill="rgba(240,30,0,0.55)"/><circle cx="152.8" cy="307.5" r="1.45" fill="rgba(240,30,0,0.55)"/><circle cx="155.7" cy="309.7" r="1.45" fill="rgba(240,30,0,0.55)"/><circle cx="159.4" cy="308.6" r="1.45" fill="rgba(240,30,0,0.55)"/><circle cx="149.9" cy="305.9" r="1.45" fill="rgba(240,30,0,0.55)"/><circle cx="150.3" cy="309.6" r="1.45" fill="rgba(240,30,0,0.55)"/><circle cx="149.6" cy="306.3" r="1.45" fill="rgba(240,30,0,0.55)"/><circle cx="150.1" cy="305.0" r="1.45" fill="rgba(240,30,0,0.55)"/><circle cx="161.9" cy="306.3" r="1.45" fill="rgba(240,30,0,0.55)"/><circle cx="154.1" cy="309.4" r="1.45" fill="rgba(240,30,0,0.55)"/><circle cx="147.0" cy="307.4" r="1.45" fill="rgba(240,30,0,0.55)"/><circle cx="149.4" cy="305.4" r="1.45" fill="rgba(240,30,0,0.55)"/><circle cx="145.8" cy="304.2" r="1.45" fill="rgba(240,30,0,0.55)"/><circle cx="158.8" cy="308.9" r="1.45" fill="rgba(240,30,0,0.55)"/><circle cx="160.1" cy="306.1" r="1.45" fill="rgba(240,30,0,0.55)"/><circle cx="155.8" cy="306.7" r="1.45" fill="rgba(240,30,0,0.55)"/><circle cx="154.8" cy="307.6" r="1.45" fill="rgba(240,30,0,0.55)"/><circle cx="148.2" cy="309.6" r="1.45" fill="rgba(240,30,0,0.55)"/><circle cx="141.9" cy="308.0" r="1.45" fill="rgba(240,30,0,0.55)"/><circle cx="159.0" cy="307.8" r="1.45" fill="rgba(240,30,0,0.55)"/><circle cx="153.7" cy="309.7" r="1.45" fill="rgba(240,30,0,0.55)"/><circle cx="146.6" cy="307.5" r="1.45" fill="rgba(240,30,0,0.55)"/><circle cx="156.8" cy="307.0" r="1.45" fill="rgba(240,30,0,0.55)"/><circle cx="163.4" cy="307.9" r="1.45" fill="rgba(240,30,0,0.55)"/><circle cx="161.7" cy="308.6" r="1.45" fill="rgba(240,30,0,0.55)"/><circle cx="163.1" cy="307.6" r="1.45" fill="rgba(240,30,0,0.55)"/><circle cx="162.7" cy="308.4" r="1.45" fill="rgba(240,30,0,0.55)"/><circle cx="159.0" cy="308.6" r="1.45" fill="rgba(240,30,0,0.55)"/><circle cx="159.4" cy="309.7" r="1.45" fill="rgba(240,30,0,0.55)"/><circle cx="161.3" cy="309.0" r="1.45" fill="rgba(240,30,0,0.55)"/><circle cx="161.7" cy="308.2" r="1.45" fill="rgba(240,30,0,0.55)"/><circle cx="159.0" cy="307.0" r="1.45" fill="rgba(240,30,0,0.55)"/><circle cx="165.3" cy="308.4" r="1.45" fill="rgba(240,30,0,0.55)"/><circle cx="161.7" cy="308.3" r="1.45" fill="rgba(240,30,0,0.55)"/><circle cx="164.3" cy="307.3" r="1.45" fill="rgba(240,30,0,0.55)"/><circle cx="158.6" cy="309.4" r="1.45" fill="rgba(240,30,0,0.55)"/><circle cx="161.1" cy="308.7" r="1.45" fill="rgba(240,30,0,0.55)"/><circle cx="46.2" cy="241.3" r="1.6" fill="rgba(238,0,0,0.5)"/><circle cx="46.2" cy="263.5" r="1.6" fill="rgba(238,0,0,0.5)"/><circle cx="226.4" cy="255.0" r="1.6" fill="rgba(238,0,0,0.5)"/><circle cx="108.0" cy="277.3" r="1.6" fill="rgba(238,0,0,0.5)"/><circle cx="107.9" cy="287.9" r="1.6" fill="rgba(238,0,0,0.5)"/><circle cx="108.8" cy="287.5" r="1.6" fill="rgba(238,0,0,0.5)"/><circle cx="106.6" cy="289.6" r="1.6" fill="rgba(238,0,0,0.5)"/><circle cx="107.5" cy="291.8" r="1.6" fill="rgba(238,0,0,0.5)"/><circle cx="114.0" cy="288.3" r="1.6" fill="rgba(238,0,0,0.5)"/><circle cx="114.8" cy="289.6" r="1.6" fill="rgba(238,0,0,0.5)"/><circle cx="118.3" cy="292.2" r="1.6" fill="rgba(238,0,0,0.5)"/><circle cx="121.3" cy="294.8" r="1.6" fill="rgba(238,0,0,0.5)"/><circle cx="125.6" cy="293.1" r="1.6" fill="rgba(238,0,0,0.5)"/><circle cx="103.2" cy="309.6" r="1.6" fill="rgba(238,0,0,0.5)"/><circle cx="119.5" cy="296.0" r="1.6" fill="rgba(238,0,0,0.5)"/><circle cx="150.5" cy="289.1" r="1.6" fill="rgba(238,0,0,0.5)"/><circle cx="155.1" cy="289.1" r="1.6" fill="rgba(238,0,0,0.5)"/><circle cx="150.9" cy="297.8" r="1.6" fill="rgba(238,0,0,0.5)"/><circle cx="153.7" cy="297.4" r="1.6" fill="rgba(238,0,0,0.5)"/><circle cx="152.3" cy="299.2" r="1.6" fill="rgba(238,0,0,0.5)"/><circle cx="162.0" cy="298.8" r="1.6" fill="rgba(238,0,0,0.5)"/><circle cx="169.4" cy="297.4" r="1.6" fill="rgba(238,0,0,0.5)"/><circle cx="168.5" cy="302.9" r="1.6" fill="rgba(238,0,0,0.5)"/><circle cx="171.2" cy="303.9" r="1.6" fill="rgba(238,0,0,0.5)"/><circle cx="177.2" cy="306.2" r="1.6" fill="rgba(238,0,0,0.5)"/><circle cx="167.5" cy="307.5" r="1.6" fill="rgba(238,0,0,0.5)"/></g>
<path d="M30.6,203.8 V324.7 H242.7" fill="none" stroke="#1a1a1a" stroke-width="1.1"/>
<path d="M242.7,324.7 V203.8" fill="none" stroke="#1a1a1a" stroke-width="0.9"/>
<path d="M30.6,203.8 H242.7" fill="none" stroke="#1a1a1a" stroke-width="0.9"/>
<line x1="58.00" y1="324.7" x2="58.00" y2="326.7" stroke="#333" stroke-width="0.8"/>
<text transform="translate(58.0,335.0) scale(1,1.12)" font-size="7.3" text-anchor="middle" fill="#333" stroke="#333" stroke-width="0.1">-20</text>
<line x1="97.60" y1="324.7" x2="97.60" y2="326.7" stroke="#333" stroke-width="0.8"/>
<text transform="translate(97.6,335.0) scale(1,1.12)" font-size="7.3" text-anchor="middle" fill="#333" stroke="#333" stroke-width="0.1">-10</text>
<line x1="137.20" y1="324.7" x2="137.20" y2="326.7" stroke="#333" stroke-width="0.8"/>
<text transform="translate(137.2,335.0) scale(1,1.12)" font-size="7.3" text-anchor="middle" fill="#333" stroke="#333" stroke-width="0.1">0</text>
<line x1="176.80" y1="324.7" x2="176.80" y2="326.7" stroke="#333" stroke-width="0.8"/>
<text transform="translate(176.8,335.0) scale(1,1.12)" font-size="7.3" text-anchor="middle" fill="#333" stroke="#333" stroke-width="0.1">10</text>
<line x1="216.40" y1="324.7" x2="216.40" y2="326.7" stroke="#333" stroke-width="0.8"/>
<text transform="translate(216.4,335.0) scale(1,1.12)" font-size="7.3" text-anchor="middle" fill="#333" stroke="#333" stroke-width="0.1">20</text>
<line x1="28.6" y1="319.30" x2="30.6" y2="319.30" stroke="#333" stroke-width="0.8"/>
<text transform="translate(26,321.9) scale(1,1.12)" font-size="7.3" text-anchor="end" fill="#333" stroke="#333" stroke-width="0.1">0</text>
<line x1="28.6" y1="287.05" x2="30.6" y2="287.05" stroke="#333" stroke-width="0.8"/>
<text transform="translate(26,289.65) scale(1,1.12)" font-size="7.3" text-anchor="end" fill="#333" stroke="#333" stroke-width="0.1">5</text>
<line x1="28.6" y1="254.80" x2="30.6" y2="254.80" stroke="#333" stroke-width="0.8"/>
<text transform="translate(26,257.4) scale(1,1.12)" font-size="7.3" text-anchor="end" fill="#333" stroke="#333" stroke-width="0.1">10</text>
<line x1="28.6" y1="222.55" x2="30.6" y2="222.55" stroke="#333" stroke-width="0.8"/>
<text transform="translate(26,225.15) scale(1,1.12)" font-size="7.3" text-anchor="end" fill="#333" stroke="#333" stroke-width="0.1">15</text>
<text x="137.2" y="345" font-size="9.2" text-anchor="middle">Log<tspan font-size="6.2" dy="2">2</tspan><tspan dy="-2"> fold change</tspan></text>
<text transform="translate(9.0,265.4) rotate(-90) scale(1,1.05)" font-size="9.4" text-anchor="middle" stroke="#000" stroke-width="0.16">-Log<tspan font-size="6" dy="2">10</tspan><tspan dy="-2"> </tspan><tspan font-style="italic">p-adj</tspan></text>
<text transform="translate(193.4,250.9) scale(1,1.12)" font-size="9.2" font-style="italic" stroke="#000" stroke-width="0.22">MIR7848</text>
<text transform="translate(97.9,268.6) scale(1,1.12)" font-size="9.2" font-style="italic" stroke="#000" stroke-width="0.22">BRCA2</text>
<line x1="121.1" y1="270.7" x2="143.5" y2="307" stroke="#000" stroke-width="0.9"/>
<text transform="translate(145.5,272.1) scale(1,1.12)" font-size="9.2" font-style="italic" stroke="#000" stroke-width="0.22">EZH2</text>
<line x1="149.9" y1="274.7" x2="144.6" y2="306" stroke="#000" stroke-width="0.9"/>
<text transform="translate(163.1,283.9) scale(1,1.12)" font-size="9.2" font-style="italic" stroke="#000" stroke-width="0.22">IDO1</text>
<line x1="170.8" y1="285.8" x2="156.2" y2="295.8" stroke="#000" stroke-width="0.9"/>
<text transform="translate(181.7,294.2) scale(1,1.12)" font-size="9.2" font-style="italic" stroke="#000" stroke-width="0.22">CCNE1</text>
<line x1="177.9" y1="293.9" x2="147.2" y2="307.6" stroke="#000" stroke-width="0.9"/>
<text transform="translate(188.9,305.2) scale(1,1.12)" font-size="9.2" font-style="italic" stroke="#000" stroke-width="0.22">IRF4</text>
<line x1="186.6" y1="302.9" x2="147.2" y2="308.2" stroke="#000" stroke-width="0.9"/>
<text transform="translate(178.6,321.3) scale(1,1.12)" font-size="9.2" font-style="italic" stroke="#000" stroke-width="0.22">CD48</text>
<line x1="177.2" y1="317.6" x2="149.5" y2="309.4" stroke="#000" stroke-width="0.9"/>
<text transform="translate(215.4,319.5) scale(1,1.12)" font-size="9.2" font-style="italic" stroke="#000" stroke-width="0.22">CD38</text>
<line x1="215" y1="315.6" x2="150.7" y2="308.8" stroke="#000" stroke-width="0.9"/>
<text transform="translate(257.2,179.4) scale(1,1.0)" font-size="17.2" font-weight="bold">E</text>
<text transform="translate(280.2,197.5) scale(1,1.05)" font-size="9.15" stroke="#000" stroke-width="0.16">Resistant vs Sensitive – Hallmark GSEA</text>
<line x1="279.3" y1="201.1" x2="472.9" y2="201.1" stroke="#222" stroke-width="1.35"/>
<rect x="380.1" y="205.60" width="27.70" height="8.2" fill="#FF88C4"/>
<text transform="translate(377.3,212.8) scale(1,1.05)" font-size="8" text-anchor="end" stroke="#000" stroke-width="0.16">Interferon gamma response</text>
<rect x="380.1" y="215.50" width="27.40" height="8.2" fill="#FF88C4"/>
<text transform="translate(377.3,222.73) scale(1,1.05)" font-size="8" text-anchor="end" stroke="#000" stroke-width="0.16">E2F targets</text>
<rect x="380.1" y="225.40" width="26.90" height="8.2" fill="#FF88C4"/>
<text transform="translate(377.3,232.66) scale(1,1.05)" font-size="8" text-anchor="end" stroke="#000" stroke-width="0.16">Allograft rejection</text>
<rect x="380.1" y="235.30" width="26.10" height="8.2" fill="#FF88C4"/>
<text transform="translate(377.3,242.59) scale(1,1.05)" font-size="8" text-anchor="end" stroke="#000" stroke-width="0.16">MYC targets v1</text>
<rect x="380.1" y="245.20" width="25.60" height="8.2" fill="#FF88C4"/>
<text transform="translate(377.3,252.52) scale(1,1.05)" font-size="8" text-anchor="end" stroke="#000" stroke-width="0.16">G2M checkpoint</text>
<rect x="380.1" y="255.10" width="23.10" height="8.2" fill="#FF88C4"/>
<text transform="translate(377.3,262.45) scale(1,1.05)" font-size="8" text-anchor="end" stroke="#000" stroke-width="0.16">mTORC1 signaling</text>
<rect x="380.1" y="265.00" width="22.90" height="8.2" fill="#FF88C4"/>
<text transform="translate(377.3,272.38) scale(1,1.05)" font-size="8" text-anchor="end" stroke="#000" stroke-width="0.16">TNF signaling via NFκB</text>
<rect x="380.1" y="274.90" width="22.10" height="8.2" fill="#FF88C4"/>
<text transform="translate(377.3,282.31) scale(1,1.05)" font-size="8" text-anchor="end" stroke="#000" stroke-width="0.16">Inflammatory response</text>
<rect x="380.1" y="284.80" width="21.10" height="8.2" fill="#FF88C4"/>
<text transform="translate(377.3,292.24) scale(1,1.05)" font-size="8" text-anchor="end" stroke="#000" stroke-width="0.16">IL6-JAK-STAT signaling</text>
<rect x="380.1" y="294.70" width="21.10" height="8.2" fill="#FF88C4"/>
<text transform="translate(377.3,302.17) scale(1,1.05)" font-size="8" text-anchor="end" stroke="#000" stroke-width="0.16">Interferon alpha response</text>
<rect x="361.70" y="304.60" width="18.40" height="8.2" fill="#E8AE58"/>
<text transform="translate(381.6,312.2) scale(1,1.05)" font-size="8" stroke="#000" stroke-width="0.16">Estrogen response late</text>
<rect x="355.10" y="314.50" width="25.00" height="8.2" fill="#E8AE58"/>
<text transform="translate(381.6,322.1) scale(1,1.05)" font-size="8" stroke="#000" stroke-width="0.16">Estrogen response early</text>
<line x1="339.6" y1="324.4" x2="420.4" y2="324.4" stroke="#222" stroke-width="0.9"/>
<line x1="340.1" y1="324.4" x2="340.1" y2="326.4" stroke="#222" stroke-width="0.9"/>
<text transform="translate(339.70000000000005,334.6) scale(1,1.12)" font-size="7.6" text-anchor="middle" stroke="#000" stroke-width="0.08">-4</text>
<line x1="360.1" y1="324.4" x2="360.1" y2="326.4" stroke="#222" stroke-width="0.9"/>
<text transform="translate(359.70000000000005,334.6) scale(1,1.12)" font-size="7.6" text-anchor="middle" stroke="#000" stroke-width="0.08">-2</text>
<line x1="380.1" y1="324.4" x2="380.1" y2="326.4" stroke="#222" stroke-width="0.9"/>
<text transform="translate(380.1,334.6) scale(1,1.12)" font-size="7.6" text-anchor="middle" stroke="#000" stroke-width="0.08">0</text>
<line x1="400.1" y1="324.4" x2="400.1" y2="326.4" stroke="#222" stroke-width="0.9"/>
<text transform="translate(400.1,334.6) scale(1,1.12)" font-size="7.6" text-anchor="middle" stroke="#000" stroke-width="0.08">2</text>
<line x1="420.1" y1="324.4" x2="420.1" y2="326.4" stroke="#222" stroke-width="0.9"/>
<text transform="translate(420.1,334.6) scale(1,1.12)" font-size="7.6" text-anchor="middle" stroke="#000" stroke-width="0.08">4</text>
<text transform="translate(380.9,344.6) scale(1,1.13)" font-size="9.0" text-anchor="middle" stroke="#000" stroke-width="0.16">NES</text>
</svg>
</body></html>
